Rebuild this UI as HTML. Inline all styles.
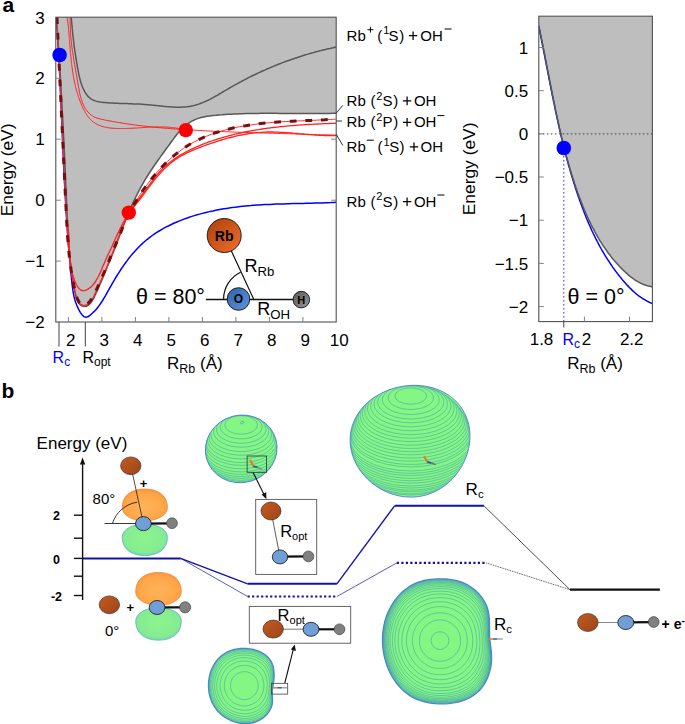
<!DOCTYPE html>
<html><head><meta charset="utf-8"><title>Figure</title>
<style>
html,body{margin:0;padding:0;background:#fff;}
body{width:685px;height:724px;overflow:hidden;}
svg{display:block;}
svg text{font-family:"Liberation Sans",sans-serif;}
</style></head><body>
<svg width="685" height="724" viewBox="0 0 685 724">
<rect width="685" height="724" fill="#fff"/>
<defs>
<linearGradient id="gRb" x1="0" y1="0" x2="1" y2="1"><stop offset="0" stop-color="#a8400c"/><stop offset="0.5" stop-color="#d0561a"/><stop offset="1" stop-color="#f07030"/></linearGradient>
<linearGradient id="gRb2" x1="0" y1="0" x2="1" y2="1"><stop offset="0" stop-color="#c65a1e"/><stop offset="1" stop-color="#9c451b"/></linearGradient>
<linearGradient id="gO" x1="0" y1="0" x2="1" y2="1"><stop offset="0" stop-color="#2f62a8"/><stop offset="1" stop-color="#5f97dc"/></linearGradient>
<linearGradient id="gH" x1="0" y1="0" x2="1" y2="1"><stop offset="0" stop-color="#555"/><stop offset="1" stop-color="#999"/></linearGradient>
<radialGradient id="gOr" cx="0.5" cy="0.55" r="0.6"><stop offset="0" stop-color="#ffb45a"/><stop offset="0.75" stop-color="#ffa548"/><stop offset="1" stop-color="#f88a3c"/></radialGradient>
<radialGradient id="gGr" cx="0.5" cy="0.45" r="0.6"><stop offset="0" stop-color="#8cf58c"/><stop offset="0.75" stop-color="#84ec92"/><stop offset="1" stop-color="#6fcfae"/></radialGradient>
</defs>
<text x="2.6" y="11.6" font-size="21" font-weight="bold" fill="#000">a</text>
<text x="1.5" y="397.6" font-size="21" font-weight="bold" fill="#000">b</text>
<g id="plotA">
<clipPath id="cpA"><rect x="55.8" y="17.2" width="280.4" height="304.8"/></clipPath>
<g clip-path="url(#cpA)">
<path d="M56.3,17.2 L56.5,19.9 L56.7,22.7 L56.9,25.4 L57.1,28.2 L57.3,30.9 L57.4,33.7 L57.6,36.4 L57.8,39.2 L57.9,41.9 L58.1,44.7 L58.2,47.4 L58.4,50.2 L58.5,52.9 L58.7,55.6 L58.8,58.4 L59.0,61.1 L59.1,63.9 L59.3,66.6 L59.4,69.4 L59.5,72.1 L59.7,74.9 L59.8,77.6 L59.9,80.3 L60.0,83.1 L60.2,85.8 L60.3,88.6 L60.4,91.3 L60.5,94.1 L60.7,96.8 L60.8,99.5 L60.9,102.3 L61.0,105.0 L61.1,107.8 L61.3,110.5 L61.4,113.3 L61.5,116.0 L61.6,118.7 L61.7,121.5 L61.8,124.2 L62.0,127.0 L62.1,129.7 L62.2,132.5 L62.3,135.2 L62.4,137.9 L62.5,140.7 L62.7,143.4 L62.8,146.2 L62.9,148.9 L63.0,151.6 L63.1,154.4 L63.3,157.1 L63.4,159.9 L63.5,162.6 L63.6,165.3 L63.8,168.1 L63.9,170.8 L64.0,173.6 L64.2,176.3 L64.3,179.1 L64.4,181.8 L64.6,184.5 L64.7,187.3 L64.9,190.0 L65.0,192.8 L65.2,195.5 L65.3,198.3 L65.5,201.0 L65.6,203.7 L65.8,206.5 L66.0,209.2 L66.1,212.0 L66.3,214.7 L66.5,217.5 L66.7,220.2 L66.8,222.9 L67.0,225.7 L67.2,228.4 L67.4,231.2 L67.6,233.9 L67.8,236.7 L68.0,239.4 L68.2,242.2 L68.5,244.9 L68.7,247.6 L68.9,250.4 L69.1,253.1 L69.4,255.9 L69.6,258.6 L69.8,261.4 L70.1,264.1 L70.3,266.9 L70.6,269.6 L70.9,272.4 L71.1,275.1 L71.4,277.9 L71.7,280.6 L72.0,283.4 L72.3,286.1 L72.7,288.8 L73.1,291.6 L73.6,294.3 L74.1,297.0 L74.8,299.6 L75.6,302.2 L76.6,304.8 L77.7,307.4 L78.9,309.9 L80.3,312.4 L82.0,314.7 L83.8,316.6 L85.8,317.3 L88.0,316.7 L90.2,315.1 L92.3,313.3 L94.3,311.4 L96.1,309.4 L97.9,307.3 L99.5,305.1 L101.1,302.8 L102.6,300.5 L104.0,298.2 L105.4,295.8 L106.7,293.4 L108.1,291.0 L109.4,288.6 L110.8,286.1 L112.2,283.7 L113.6,281.3 L115.0,278.9 L116.4,276.5 L117.9,274.2 L119.4,271.8 L120.9,269.5 L122.4,267.2 L124.0,264.9 L125.6,262.7 L127.3,260.4 L128.9,258.3 L130.6,256.1 L132.4,254.0 L134.2,251.9 L136.0,249.9 L137.9,247.9 L139.8,246.0 L141.8,244.1 L143.8,242.3 L145.8,240.5 L147.9,238.8 L150.1,237.1 L152.3,235.5 L154.5,233.9 L156.8,232.4 L159.1,231.0 L161.5,229.6 L163.9,228.2 L166.3,226.9 L168.8,225.7 L171.3,224.5 L173.8,223.3 L176.3,222.2 L178.9,221.1 L181.4,220.1 L184.0,219.1 L186.6,218.2 L189.2,217.3 L191.8,216.4 L194.4,215.6 L197.1,214.8 L199.7,214.1 L202.3,213.4 L205.0,212.7 L207.7,212.1 L210.3,211.4 L213.0,210.9 L215.7,210.3 L218.4,209.8 L221.1,209.3 L223.8,208.8 L226.5,208.4 L229.2,208.0 L231.9,207.6 L234.6,207.3 L237.3,206.9 L240.1,206.6 L242.8,206.3 L245.5,206.0 L248.3,205.8 L251.0,205.6 L253.8,205.3 L256.5,205.1 L259.3,205.0 L262.0,204.8 L264.8,204.6 L267.5,204.5 L270.3,204.4 L273.0,204.2 L275.8,204.1 L278.6,204.0 L281.3,203.9 L284.1,203.9 L286.8,203.8 L289.6,203.7 L292.4,203.6 L295.1,203.6 L297.9,203.5 L300.6,203.4 L303.4,203.4 L306.1,203.3 L308.9,203.2 L311.6,203.2 L314.4,203.1 L317.1,203.0 L319.8,203.0 L322.6,202.9 L325.3,202.8 L328.0,202.7 L330.7,202.6 L333.4,202.4 L336.2,202.3" fill="none" stroke="#0000ff" stroke-width="1.5"/>
<path d="M57.0,17.2 L57.1,20.1 L57.2,23.0 L57.4,25.9 L57.5,28.9 L57.6,31.8 L57.8,34.7 L57.9,37.6 L58.0,40.5 L58.2,43.4 L58.3,46.3 L58.4,49.2 L58.6,52.2 L58.7,55.1 L58.8,58.0 L59.0,60.9 L59.1,63.8 L59.2,66.7 L59.4,69.7 L59.5,72.6 L59.7,75.5 L59.8,78.4 L59.9,81.3 L60.1,84.3 L60.2,87.2 L60.3,90.1 L60.5,93.0 L60.6,95.9 L60.8,98.9 L60.9,101.8 L61.0,104.7 L61.2,107.6 L61.3,110.5 L61.4,113.5 L61.6,116.4 L61.7,119.3 L61.9,122.2 L62.0,125.2 L62.1,128.1 L62.3,131.0 L62.4,133.9 L62.6,136.8 L62.7,139.8 L62.8,142.7 L63.0,145.6 L63.1,148.5 L63.3,151.4 L63.4,154.4 L63.5,157.3 L63.7,160.2 L63.8,163.1 L64.0,166.0 L64.1,168.9 L64.3,171.9 L64.4,174.8 L64.5,177.7 L64.7,180.6 L64.8,183.5 L65.0,186.4 L65.1,189.3 L65.2,192.3 L65.4,195.2 L65.5,198.1 L65.7,201.0 L65.8,203.9 L66.0,206.8 L66.1,209.7 L66.2,212.6 L66.4,215.5 L66.5,218.4 L66.7,221.3 L66.8,224.2 L67.0,227.1 L67.2,230.0 L67.4,232.9 L67.5,235.8 L67.7,238.7 L68.0,241.6 L68.2,244.5 L68.4,247.5 L68.7,250.4 L69.0,253.3 L69.3,256.2 L69.6,259.1 L70.0,262.0 L70.4,264.9 L70.8,267.8 L71.2,270.7 L71.7,273.6 L72.2,276.5 L72.7,279.4 L73.3,282.4 L73.8,285.3 L74.5,288.2 L75.1,291.1 L75.9,294.0 L76.6,296.9 L77.7,299.6 L79.1,302.1 L81.0,304.1 L83.4,305.2 L85.8,304.8 L88.1,303.2 L90.2,300.9 L91.9,298.5 L93.4,295.9 L94.8,293.3 L96.0,290.6 L97.3,287.9 L98.5,285.2 L99.7,282.6 L100.9,279.9 L102.1,277.2 L103.2,274.5 L104.4,271.8 L105.5,269.1 L106.6,266.5 L107.8,263.8 L108.9,261.1 L110.0,258.4 L111.1,255.7 L112.2,253.0 L113.3,250.3 L114.4,247.6 L115.5,244.9 L116.6,242.3 L117.7,239.6 L118.8,236.9 L120.0,234.2 L121.1,231.5 L122.2,228.8 L123.4,226.1 L124.6,223.4 L125.8,220.7 L127.0,218.1 L128.3,215.4 L129.6,212.8 L130.9,210.2 L132.3,207.7 L133.7,205.1 L135.1,202.6 L136.6,200.2 L138.1,197.7 L139.7,195.2 L141.3,192.8 L142.9,190.4 L144.6,188.0 L146.3,185.7 L148.1,183.3 L149.9,181.0 L151.7,178.7 L153.6,176.4 L155.5,174.1 L157.4,171.9 L159.4,169.7 L161.4,167.5 L163.5,165.4 L165.5,163.3 L167.7,161.3 L169.8,159.3 L172.0,157.3 L174.2,155.4 L176.5,153.6 L178.8,151.8 L181.1,150.1 L183.5,148.4 L185.9,146.8 L188.3,145.3 L190.8,143.8 L193.3,142.4 L195.9,141.1 L198.4,139.8 L201.0,138.6 L203.6,137.4 L206.3,136.3 L209.0,135.2 L211.7,134.2 L214.4,133.2 L217.1,132.3 L219.9,131.5 L222.7,130.7 L225.5,129.9 L228.3,129.2 L231.1,128.5 L234.0,127.8 L236.9,127.2 L239.8,126.7 L242.7,126.1 L245.6,125.7 L248.5,125.2 L251.4,124.8 L254.4,124.4 L257.3,124.0 L260.3,123.6 L263.2,123.3 L266.2,123.0 L269.2,122.7 L272.1,122.5 L275.1,122.3 L278.1,122.0 L281.0,121.8 L284.0,121.7 L287.0,121.5 L289.9,121.3 L292.9,121.2 L295.8,121.0 L298.8,120.9 L301.7,120.8 L304.6,120.6 L307.6,120.5 L310.5,120.4 L313.3,120.3 L316.2,120.2 L319.1,120.0 L321.9,119.9 L324.8,119.8 L327.6,119.6 L330.4,119.5 L333.1,119.3 L335.9,119.1" fill="none" stroke="#ff3030" stroke-width="1"/>
<path d="M56.4,17.3 L56.6,20.2 L56.8,23.2 L57.1,26.2 L57.3,29.2 L57.5,32.2 L57.7,35.1 L57.9,38.1 L58.1,41.1 L58.3,44.1 L58.5,47.1 L58.7,50.1 L58.9,53.1 L59.1,56.1 L59.3,59.1 L59.4,62.1 L59.6,65.1 L59.8,68.1 L60.0,71.1 L60.2,74.1 L60.4,77.1 L60.5,80.1 L60.7,83.1 L60.9,86.1 L61.1,89.1 L61.2,92.1 L61.4,95.2 L61.6,98.2 L61.8,101.2 L61.9,104.2 L62.1,107.2 L62.2,110.2 L62.4,113.2 L62.6,116.2 L62.7,119.2 L62.9,122.3 L63.0,125.3 L63.2,128.3 L63.3,131.3 L63.5,134.3 L63.6,137.3 L63.8,140.3 L63.9,143.3 L64.1,146.3 L64.2,149.3 L64.4,152.3 L64.5,155.3 L64.6,158.3 L64.8,161.4 L64.9,164.4 L65.1,167.4 L65.2,170.4 L65.3,173.4 L65.5,176.4 L65.6,179.3 L65.7,182.3 L65.8,185.3 L66.0,188.3 L66.1,191.3 L66.2,194.3 L66.3,197.3 L66.5,200.3 L66.6,203.3 L66.7,206.2 L66.8,209.2 L67.0,212.2 L67.1,215.2 L67.2,218.1 L67.4,221.1 L67.5,224.1 L67.7,227.1 L67.8,230.1 L68.0,233.0 L68.2,236.0 L68.4,239.0 L68.6,242.0 L68.8,245.0 L69.0,248.0 L69.3,251.0 L69.6,254.0 L69.9,257.0 L70.2,260.0 L70.5,263.0 L70.9,266.0 L71.2,269.1 L71.6,272.1 L72.1,275.1 L72.5,278.2 L73.0,281.2 L73.5,284.3 L74.1,287.3 L74.6,290.4 L75.2,293.5 L75.9,296.5 L76.8,299.4 L78.0,302.1 L79.6,304.3 L81.7,305.9 L84.1,306.6 L86.6,306.2 L88.9,304.8 L90.9,302.7 L92.6,300.2 L94.2,297.3 L95.5,294.3 L96.9,291.4 L98.2,288.5 L99.4,285.7 L100.6,282.9 L101.8,280.1 L103.0,277.4 L104.1,274.6 L105.2,271.9 L106.4,269.2 L107.4,266.5 L108.5,263.8 L109.6,261.0 L110.7,258.3 L111.7,255.5 L112.8,252.7 L113.9,249.9 L115.0,247.1 L116.0,244.2 L117.1,241.4 L118.2,238.6 L119.3,235.8 L120.4,232.9 L121.5,230.1 L122.6,227.3 L123.7,224.5 L124.8,221.7 L126.0,218.9 L127.1,216.1 L128.3,213.4 L129.5,210.6 L130.7,207.9 L132.0,205.1 L133.2,202.4 L134.5,199.7 L135.8,197.0 L137.1,194.3 L138.5,191.7 L139.9,189.0 L141.3,186.4 L142.8,183.8 L144.3,181.2 L145.8,178.6 L147.4,176.0 L149.0,173.5 L150.6,171.0 L152.3,168.5 L154.0,166.0 L155.7,163.5 L157.4,161.0 L159.2,158.6 L160.9,156.1 L162.7,153.7 L164.5,151.2 L166.3,148.8 L168.1,146.4 L169.8,144.0 L171.6,141.5 L173.4,139.1 L175.1,136.7 L177.0,134.3 L178.9,132.0 L180.9,129.8 L183.0,127.7 L185.3,125.7 L187.7,123.8 L190.2,122.1 L192.8,120.7 L195.5,119.4 L198.3,118.4 L201.1,117.5 L204.0,116.9 L207.0,116.3 L210.0,115.9 L213.0,115.5 L216.0,115.3 L219.0,115.0 L222.0,114.8 L225.1,114.5 L228.1,114.3 L231.1,114.2 L234.1,114.0 L237.1,113.9 L240.1,113.8 L243.1,113.7 L246.1,113.6 L249.1,113.5 L252.1,113.4 L255.1,113.4 L258.1,113.4 L261.1,113.3 L264.1,113.3 L267.1,113.3 L270.1,113.3 L273.1,113.3 L276.1,113.3 L279.1,113.4 L282.1,113.4 L285.1,113.4 L288.1,113.4 L291.1,113.4 L294.1,113.5 L297.1,113.5 L300.1,113.5 L303.1,113.5 L306.1,113.5 L309.1,113.6 L312.1,113.6 L315.1,113.5 L318.1,113.5 L321.1,113.5 L324.1,113.5 L327.2,113.4 L330.2,113.4 L333.2,113.3 L336.2,113.2 L336.2,17.2 Z" fill="#bebebe"/>
<path d="M56.4,17.3 L56.6,20.2 L56.8,23.2 L57.1,26.2 L57.3,29.2 L57.5,32.2 L57.7,35.1 L57.9,38.1 L58.1,41.1 L58.3,44.1 L58.5,47.1 L58.7,50.1 L58.9,53.1 L59.1,56.1 L59.3,59.1 L59.4,62.1 L59.6,65.1 L59.8,68.1 L60.0,71.1 L60.2,74.1 L60.4,77.1 L60.5,80.1 L60.7,83.1 L60.9,86.1 L61.1,89.1 L61.2,92.1 L61.4,95.2 L61.6,98.2 L61.8,101.2 L61.9,104.2 L62.1,107.2 L62.2,110.2 L62.4,113.2 L62.6,116.2 L62.7,119.2 L62.9,122.3 L63.0,125.3 L63.2,128.3 L63.3,131.3 L63.5,134.3 L63.6,137.3 L63.8,140.3 L63.9,143.3 L64.1,146.3 L64.2,149.3 L64.4,152.3 L64.5,155.3 L64.6,158.3 L64.8,161.4 L64.9,164.4 L65.1,167.4 L65.2,170.4 L65.3,173.4 L65.5,176.4 L65.6,179.3 L65.7,182.3 L65.8,185.3 L66.0,188.3 L66.1,191.3 L66.2,194.3 L66.3,197.3 L66.5,200.3 L66.6,203.3 L66.7,206.2 L66.8,209.2 L67.0,212.2 L67.1,215.2 L67.2,218.1 L67.4,221.1 L67.5,224.1 L67.7,227.1 L67.8,230.1 L68.0,233.0 L68.2,236.0 L68.4,239.0 L68.6,242.0 L68.8,245.0 L69.0,248.0 L69.3,251.0 L69.6,254.0 L69.9,257.0 L70.2,260.0 L70.5,263.0 L70.9,266.0 L71.2,269.1 L71.6,272.1 L72.1,275.1 L72.5,278.2 L73.0,281.2 L73.5,284.3 L74.1,287.3 L74.6,290.4 L75.2,293.5 L75.9,296.5 L76.8,299.4 L78.0,302.1 L79.6,304.3 L81.7,305.9 L84.1,306.6 L86.6,306.2 L88.9,304.8 L90.9,302.7 L92.6,300.2 L94.2,297.3 L95.5,294.3 L96.9,291.4 L98.2,288.5 L99.4,285.7 L100.6,282.9 L101.8,280.1 L103.0,277.4 L104.1,274.6 L105.2,271.9 L106.4,269.2 L107.4,266.5 L108.5,263.8 L109.6,261.0 L110.7,258.3 L111.7,255.5 L112.8,252.7 L113.9,249.9 L115.0,247.1 L116.0,244.2 L117.1,241.4 L118.2,238.6 L119.3,235.8 L120.4,232.9 L121.5,230.1 L122.6,227.3 L123.7,224.5 L124.8,221.7 L126.0,218.9 L127.1,216.1 L128.3,213.4 L129.5,210.6 L130.7,207.9 L132.0,205.1 L133.2,202.4 L134.5,199.7 L135.8,197.0 L137.1,194.3 L138.5,191.7 L139.9,189.0 L141.3,186.4 L142.8,183.8 L144.3,181.2 L145.8,178.6 L147.4,176.0 L149.0,173.5 L150.6,171.0 L152.3,168.5 L154.0,166.0 L155.7,163.5 L157.4,161.0 L159.2,158.6 L160.9,156.1 L162.7,153.7 L164.5,151.2 L166.3,148.8 L168.1,146.4 L169.8,144.0 L171.6,141.5 L173.4,139.1 L175.1,136.7 L177.0,134.3 L178.9,132.0 L180.9,129.8 L183.0,127.7 L185.3,125.7 L187.7,123.8 L190.2,122.1 L192.8,120.7 L195.5,119.4 L198.3,118.4 L201.1,117.5 L204.0,116.9 L207.0,116.3 L210.0,115.9 L213.0,115.5 L216.0,115.3 L219.0,115.0 L222.0,114.8 L225.1,114.5 L228.1,114.3 L231.1,114.2 L234.1,114.0 L237.1,113.9 L240.1,113.8 L243.1,113.7 L246.1,113.6 L249.1,113.5 L252.1,113.4 L255.1,113.4 L258.1,113.4 L261.1,113.3 L264.1,113.3 L267.1,113.3 L270.1,113.3 L273.1,113.3 L276.1,113.3 L279.1,113.4 L282.1,113.4 L285.1,113.4 L288.1,113.4 L291.1,113.4 L294.1,113.5 L297.1,113.5 L300.1,113.5 L303.1,113.5 L306.1,113.5 L309.1,113.6 L312.1,113.6 L315.1,113.5 L318.1,113.5 L321.1,113.5 L324.1,113.5 L327.2,113.4 L330.2,113.4 L333.2,113.3 L336.2,113.2" fill="none" stroke="#585858" stroke-width="1.5"/>
<path d="M71.2,17.1 L71.4,18.8 L71.5,20.4 L71.6,22.0 L71.8,23.6 L71.9,25.2 L72.1,26.8 L72.2,28.4 L72.4,30.0 L72.5,31.5 L72.7,33.1 L72.8,34.6 L73.0,36.2 L73.2,37.7 L73.4,39.2 L73.5,40.8 L73.7,42.3 L73.9,43.8 L74.1,45.3 L74.3,46.8 L74.5,48.4 L74.7,49.9 L74.9,51.4 L75.2,52.9 L75.4,54.4 L75.6,56.0 L75.9,57.5 L76.1,59.0 L76.4,60.6 L76.6,62.1 L76.9,63.7 L77.2,65.2 L77.4,66.8 L77.7,68.4 L78.0,70.0 L78.3,71.6 L78.6,73.2 L79.0,74.8 L79.3,76.4 L79.7,78.0 L80.1,79.6 L80.5,81.2 L81.0,82.7 L81.5,84.3 L82.0,85.8 L82.6,87.3 L83.3,88.7 L84.0,90.2 L84.7,91.6 L85.5,92.9 L86.4,94.2 L87.3,95.5 L88.3,96.6 L89.4,97.6 L90.6,98.6 L91.8,99.3 L93.1,100.0 L94.5,100.6 L95.9,101.1 L97.4,101.5 L98.8,101.8 L100.4,102.1 L101.9,102.3 L103.5,102.5 L105.1,102.6 L106.7,102.7 L108.3,102.8 L109.9,102.9 L111.5,103.0 L113.1,103.1 L114.6,103.2 L116.2,103.2 L117.8,103.3 L119.3,103.4 L120.9,103.4 L122.5,103.5 L124.0,103.5 L125.6,103.6 L127.1,103.6 L128.7,103.7 L130.2,103.7 L131.8,103.8 L133.3,103.9 L134.9,103.9 L136.4,104.0 L138.0,104.1 L139.5,104.1 L141.1,104.2 L142.7,104.3 L144.2,104.4 L145.8,104.5 L147.4,104.7 L148.9,104.8 L150.5,104.9 L152.1,105.1 L153.7,105.2 L155.3,105.4 L156.9,105.6 L158.5,105.7 L160.1,105.9 L161.7,106.1 L163.3,106.3 L164.9,106.4 L166.5,106.6 L168.1,106.7 L169.7,106.8 L171.3,106.9 L172.8,107.0 L174.4,107.1 L176.0,107.2 L177.6,107.2 L179.2,107.2 L180.7,107.2 L182.3,107.1 L183.8,107.0 L185.4,106.9 L186.9,106.8 L188.4,106.6 L190.0,106.4 L191.5,106.1 L193.0,105.8 L194.4,105.4 L195.9,105.0 L197.4,104.5 L198.8,104.1 L200.3,103.5 L201.7,103.0 L203.2,102.4 L204.6,101.8 L206.0,101.1 L207.4,100.5 L208.8,99.8 L210.2,99.1 L211.6,98.3 L213.0,97.6 L214.4,96.8 L215.8,96.0 L217.2,95.3 L218.6,94.5 L220.0,93.6 L221.3,92.8 L222.7,92.0 L224.1,91.2 L225.5,90.4 L226.8,89.6 L228.2,88.8 L229.6,88.0 L231.0,87.2 L232.4,86.4 L233.8,85.6 L235.1,84.8 L236.5,84.1 L237.9,83.3 L239.3,82.5 L240.7,81.8 L242.1,81.0 L243.5,80.3 L244.9,79.6 L246.3,78.9 L247.7,78.1 L249.1,77.4 L250.5,76.7 L251.9,76.0 L253.3,75.3 L254.7,74.7 L256.1,74.0 L257.6,73.3 L259.0,72.6 L260.4,72.0 L261.8,71.3 L263.2,70.7 L264.7,70.1 L266.1,69.4 L267.5,68.8 L269.0,68.2 L270.4,67.6 L271.8,67.0 L273.3,66.4 L274.7,65.8 L276.2,65.2 L277.6,64.6 L279.1,64.0 L280.5,63.5 L282.0,62.9 L283.4,62.4 L284.9,61.8 L286.4,61.3 L287.8,60.7 L289.3,60.2 L290.8,59.7 L292.2,59.2 L293.7,58.7 L295.2,58.2 L296.7,57.7 L298.2,57.2 L299.6,56.7 L301.1,56.2 L302.6,55.8 L304.1,55.3 L305.6,54.8 L307.1,54.4 L308.6,53.9 L310.1,53.5 L311.7,53.1 L313.2,52.6 L314.7,52.2 L316.2,51.8 L317.7,51.4 L319.3,51.0 L320.8,50.6 L322.3,50.2 L323.9,49.8 L325.4,49.5 L327.0,49.1 L328.5,48.7 L330.1,48.4 L331.6,48.0 L333.2,47.7 L334.8,47.3 L336.3,47.0" fill="none" stroke="#585858" stroke-width="1.5"/>
<path d="M70.1,17.2 L70.1,18.9 L70.1,20.6 L70.1,22.3 L70.1,23.9 L70.2,25.6 L70.2,27.2 L70.3,28.9 L70.4,30.5 L70.5,32.1 L70.6,33.7 L70.7,35.3 L70.8,36.8 L71.0,38.4 L71.1,40.0 L71.3,41.5 L71.4,43.1 L71.6,44.6 L71.8,46.1 L72.0,47.7 L72.2,49.2 L72.4,50.7 L72.7,52.2 L72.9,53.8 L73.1,55.3 L73.4,56.8 L73.6,58.3 L73.8,59.9 L74.1,61.4 L74.4,62.9 L74.6,64.4 L74.9,66.0 L75.2,67.5 L75.4,69.1 L75.7,70.6 L76.0,72.2 L76.3,73.7 L76.5,75.3 L76.8,76.9 L77.1,78.5 L77.4,80.1 L77.6,81.7 L77.9,83.3 L78.2,84.9 L78.5,86.6 L78.8,88.2 L79.1,89.9 L79.4,91.5 L79.7,93.1 L80.1,94.7 L80.5,96.4 L80.9,97.9 L81.4,99.5 L81.9,101.0 L82.4,102.6 L83.0,104.0 L83.7,105.5 L84.4,106.9 L85.2,108.3 L86.0,109.6 L86.9,110.8 L87.9,112.0 L89.0,113.1 L90.1,114.2 L91.3,115.1 L92.5,116.0 L93.8,116.8 L95.2,117.4 L96.7,118.0 L98.1,118.4 L99.7,118.8 L101.2,119.2 L102.8,119.5 L104.3,119.9 L105.9,120.2 L107.5,120.5 L109.0,120.8 L110.6,121.1 L112.2,121.4 L113.8,121.7 L115.3,121.9 L116.9,122.2 L118.5,122.5 L120.0,122.7 L121.6,123.0 L123.2,123.3 L124.8,123.5 L126.4,123.7 L127.9,124.0 L129.5,124.2 L131.1,124.4 L132.7,124.7 L134.3,124.9 L135.8,125.1 L137.4,125.3 L139.0,125.5 L140.6,125.7 L142.2,125.9 L143.7,126.1 L145.3,126.2 L146.9,126.4 L148.5,126.6 L150.1,126.8 L151.7,126.9 L153.3,127.1 L154.8,127.2 L156.4,127.4 L158.0,127.6 L159.6,127.7 L161.2,127.8 L162.8,128.0 L164.4,128.1 L166.0,128.3 L167.6,128.4 L169.1,128.5 L170.7,128.6 L172.3,128.8 L173.9,128.9 L175.5,129.0 L177.1,129.1 L178.7,129.2 L180.3,129.3 L181.9,129.4 L183.5,129.6 L185.0,129.7 L186.6,129.8 L188.2,129.9 L189.8,130.0 L191.4,130.1 L193.0,130.1 L194.6,130.2 L196.2,130.3 L197.8,130.4 L199.4,130.5 L201.0,130.6 L202.5,130.7 L204.1,130.8 L205.7,130.8 L207.3,130.9 L208.9,131.0 L210.5,131.1 L212.1,131.1 L213.7,131.2 L215.3,131.3 L216.9,131.4 L218.4,131.4 L220.0,131.5 L221.6,131.6 L223.2,131.6 L224.8,131.7 L226.4,131.8 L228.0,131.8 L229.6,131.9 L231.2,131.9 L232.8,132.0 L234.3,132.1 L235.9,132.1 L237.5,132.2 L239.1,132.2 L240.7,132.3 L242.3,132.3 L243.9,132.4 L245.5,132.5 L247.1,132.5 L248.7,132.6 L250.2,132.6 L251.8,132.7 L253.4,132.7 L255.0,132.8 L256.6,132.8 L258.2,132.9 L259.8,132.9 L261.4,133.0 L263.0,133.0 L264.6,133.1 L266.2,133.1 L267.7,133.1 L269.3,133.2 L270.9,133.2 L272.5,133.3 L274.1,133.3 L275.7,133.4 L277.3,133.4 L278.9,133.5 L280.5,133.5 L282.1,133.6 L283.7,133.6 L285.2,133.7 L286.8,133.7 L288.4,133.7 L290.0,133.8 L291.6,133.8 L293.2,133.9 L294.8,133.9 L296.4,134.0 L298.0,134.0 L299.6,134.1 L301.2,134.1 L302.8,134.2 L304.3,134.2 L305.9,134.3 L307.5,134.3 L309.1,134.4 L310.7,134.4 L312.3,134.5 L313.9,134.5 L315.5,134.6 L317.1,134.7 L318.7,134.7 L320.3,134.8 L321.9,134.8 L323.5,134.9 L325.0,134.9 L326.6,135.0 L328.2,135.1 L329.8,135.1 L331.4,135.2 L333.0,135.3 L334.6,135.3 L336.2,135.4" fill="none" stroke="#ff2020" stroke-width="1"/>
<path d="M67.2,17.2 L67.3,18.1 L67.4,19.1 L67.5,20.0 L67.6,20.9 L67.7,21.9 L67.9,22.8 L68.0,23.7 L68.1,24.6 L68.2,25.6 L68.3,26.5 L68.4,27.4 L68.4,28.3 L68.5,29.3 L68.6,30.2 L68.7,31.1 L68.8,32.1 L68.9,33.0 L69.0,33.9 L69.0,34.8 L69.1,35.8 L69.2,36.7 L69.3,37.6 L69.3,38.6 L69.4,39.5 L69.5,40.4 L69.6,41.3 L69.6,42.3 L69.7,43.2 L69.8,44.1 L69.9,45.1 L69.9,46.0 L70.0,46.9 L70.1,47.8 L70.2,48.8 L70.2,49.7 L70.3,50.6 L70.4,51.5 L70.5,52.5 L70.6,53.4 L70.7,54.3 L70.7,55.2 L70.8,56.2 L70.9,57.1 L71.0,58.0 L71.1,58.9 L71.2,59.9 L71.3,60.8 L71.4,61.7 L71.5,62.6 L71.6,63.5 L71.7,64.5 L71.8,65.4 L71.9,66.3 L72.0,67.2 L72.2,68.1 L72.3,69.1 L72.4,70.0 L72.6,70.9 L72.7,71.8 L72.8,72.7 L73.0,73.7 L73.1,74.6 L73.3,75.5 L73.4,76.4 L73.6,77.3 L73.8,78.2 L73.9,79.1 L74.1,80.1 L74.3,81.0 L74.5,81.9 L74.7,82.8 L74.9,83.7 L75.1,84.6 L75.3,85.5 L75.5,86.4 L75.7,87.4 L76.0,88.3 L76.2,89.2 L76.4,90.1 L76.7,91.0 L77.0,91.9 L77.2,92.8 L77.5,93.7 L77.8,94.6 L78.1,95.5 L78.3,96.4 L78.6,97.3 L79.0,98.2 L79.3,99.1 L79.6,100.0 L79.9,100.9 L80.3,101.8 L80.6,102.7 L81.0,103.6 L81.3,104.5 L81.7,105.4 L82.1,106.3 L82.5,107.2 L82.9,108.0 L83.3,108.9 L83.8,109.7 L84.2,110.6 L84.7,111.4 L85.1,112.2 L85.6,113.0 L86.1,113.8 L86.6,114.6 L87.1,115.4 L87.7,116.1 L88.2,116.8 L88.8,117.6 L89.4,118.2 L90.0,118.9 L90.6,119.6 L91.2,120.2 L91.9,120.8 L92.5,121.4 L93.2,121.9 L93.9,122.4 L94.7,122.9 L95.4,123.4 L96.1,123.8 L96.9,124.3 L97.7,124.7 L98.5,125.0 L99.3,125.4 L100.2,125.7 L101.0,126.0 L101.9,126.3 L102.7,126.5 L103.6,126.8 L104.5,127.0 L105.4,127.2 L106.3,127.4 L107.2,127.6 L108.2,127.7 L109.1,127.9 L110.0,128.0 L111.0,128.1 L111.9,128.2 L112.9,128.3 L113.9,128.3 L114.8,128.4 L115.8,128.4 L116.8,128.5 L117.7,128.5 L118.7,128.5 L119.7,128.5 L120.6,128.6 L121.6,128.5 L122.6,128.5 L123.5,128.5 L124.5,128.5 L125.4,128.5 L126.4,128.5 L127.3,128.4 L128.3,128.4 L129.2,128.4 L130.2,128.3 L131.1,128.3 L132.0,128.2 L133.0,128.2 L133.9,128.1 L134.9,128.1 L135.8,128.0 L136.7,128.0 L137.6,127.9 L138.6,127.8 L139.5,127.8 L140.4,127.7 L141.3,127.7 L142.3,127.6 L143.2,127.5 L144.1,127.5 L145.0,127.4 L145.9,127.4 L146.8,127.3 L147.8,127.3 L148.7,127.2 L149.6,127.2 L150.5,127.1 L151.4,127.1 L152.3,127.0 L153.2,127.0 L154.2,127.0 L155.1,126.9 L156.0,126.9 L156.9,126.9 L157.8,126.9 L158.7,126.9 L159.6,126.9 L160.6,126.9 L161.5,126.9 L162.4,126.9 L163.3,126.9 L164.2,126.9 L165.1,127.0 L166.1,127.0 L167.0,127.1 L167.9,127.1 L168.8,127.2 L169.8,127.3 L170.7,127.4 L171.6,127.5 L172.5,127.6 L173.5,127.7 L174.4,127.8 L175.3,127.9 L176.3,128.1 L177.2,128.2 L178.2,128.4 L179.1,128.6 L180.1,128.7 L181.0,128.9 L182.0,129.1 L182.9,129.4 L183.9,129.6 L184.8,129.9 L185.8,130.1" fill="none" stroke="#ff2020" stroke-width="1"/>
<path d="M56.7,17.2 L57.0,23.1 L57.4,29.0 L57.7,35.0 L58.0,40.9 L58.3,46.8 L58.6,52.7 L58.9,58.6 L59.2,64.6 L59.5,70.5 L59.7,76.4 L60.0,82.3 L60.2,88.2 L60.5,94.2 L60.8,100.1 L61.0,106.0 L61.3,111.9 L61.5,117.8 L61.8,123.8 L62.1,129.7 L62.3,135.6 L62.6,141.5 L62.9,147.5 L63.1,153.4 L63.4,159.3 L63.7,165.2 L64.0,171.1 L64.3,177.1 L64.7,183.0 L65.0,188.9 L65.3,194.8 L65.7,200.7 L66.1,206.6 L66.4,212.5 L66.8,218.5 L67.2,224.4 L67.7,230.3 L68.1,236.2 L68.6,242.1 L69.1,248.0" fill="none" stroke="#ff3040" stroke-width="0.7"/>
<path d="M66.8,220.0 L67.2,221.8 L67.5,223.6 L67.8,225.5 L68.0,227.3 L68.3,229.1 L68.5,231.0 L68.6,232.8 L68.8,234.7 L68.9,236.5 L69.0,238.4 L69.1,240.2 L69.1,242.1 L69.2,243.9 L69.3,245.8 L69.3,247.7 L69.4,249.5 L69.5,251.4 L69.6,253.3 L69.7,255.1 L69.8,257.0 L70.0,258.8 L70.1,260.7 L70.3,262.6 L70.6,264.4 L70.8,266.3 L71.2,268.1 L71.5,269.9 L71.9,271.8 L72.4,273.6 L72.9,275.4 L73.4,277.3 L74.1,279.1 L74.8,280.9 L75.5,282.7 L76.3,284.5 L77.3,286.1 L78.3,287.6 L79.4,288.9 L80.6,289.9 L82.0,290.5 L83.5,290.7 L85.1,290.4 L86.7,289.8 L88.3,288.9 L89.8,287.9 L91.2,286.7 L92.5,285.4 L93.7,284.0 L94.8,282.5 L95.9,280.9 L96.9,279.2 L97.8,277.5 L98.7,275.7 L99.6,273.9 L100.4,272.1 L101.2,270.2 L101.9,268.4 L102.7,266.6 L103.5,264.9 L104.2,263.2 L105.0,261.5 L105.7,259.8 L106.5,258.2 L107.2,256.5 L108.0,254.9 L108.7,253.3 L109.5,251.7 L110.2,250.1 L111.0,248.5 L111.7,246.9 L112.5,245.2 L113.2,243.5 L114.0,241.9 L114.7,240.2 L115.5,238.5 L116.3,236.8 L117.1,235.1 L117.9,233.4 L118.7,231.7 L119.5,230.0 L120.3,228.3 L121.2,226.6 L122.0,224.9 L122.9,223.3 L123.8,221.6 L124.7,219.9 L125.6,218.3 L126.5,216.7 L127.5,215.1 L128.4,213.5 L129.4,211.9 L130.4,210.4 L131.5,208.8 L132.5,207.3 L133.6,205.8 L134.7,204.3 L135.8,202.9 L136.9,201.4 L138.0,199.9 L139.1,198.5 L140.3,197.0 L141.4,195.5 L142.5,194.1 L143.6,192.6 L144.8,191.1 L145.9,189.6 L147.0,188.1 L148.1,186.6 L149.2,185.1 L150.3,183.6 L151.4,182.1 L152.6,180.6 L153.7,179.1 L154.8,177.6 L156.0,176.1 L157.2,174.7 L158.4,173.2 L159.6,171.8 L160.9,170.5 L162.2,169.1 L163.5,167.9 L164.8,166.6 L166.2,165.4 L167.6,164.2 L169.0,163.0 L170.5,161.8 L172.0,160.7 L173.4,159.7 L175.0,158.6 L176.5,157.6 L178.0,156.6 L179.6,155.6 L181.2,154.6 L182.8,153.7 L184.4,152.8 L186.1,151.9 L187.7,151.0 L189.4,150.2 L191.0,149.4 L192.7,148.6 L194.4,147.8 L196.1,147.0 L197.8,146.3 L199.6,145.6 L201.3,144.9 L203.0,144.2 L204.7,143.5 L206.5,142.8 L208.2,142.2 L210.0,141.6 L211.7,141.0 L213.5,140.4 L215.3,139.8 L217.0,139.2 L218.8,138.6 L220.6,138.1 L222.3,137.6 L224.1,137.1 L225.9,136.6 L227.7,136.1 L229.5,135.6 L231.3,135.1 L233.1,134.7 L234.9,134.2 L236.7,133.8 L238.5,133.4 L240.3,133.0 L242.1,132.6 L243.9,132.2 L245.7,131.8 L247.5,131.5 L249.4,131.1 L251.2,130.8 L253.0,130.5 L254.8,130.2 L256.7,129.8 L258.5,129.6 L260.3,129.3 L262.2,129.0 L264.0,128.7 L265.9,128.5 L267.7,128.2 L269.5,128.0 L271.4,127.7 L273.2,127.5 L275.1,127.3 L276.9,127.1 L278.8,126.9 L280.6,126.7 L282.5,126.5 L284.3,126.3 L286.2,126.1 L288.0,125.9 L289.9,125.8 L291.7,125.6 L293.6,125.5 L295.4,125.3 L297.3,125.2 L299.2,125.1 L301.0,124.9 L302.9,124.8 L304.7,124.7 L306.6,124.6 L308.4,124.5 L310.3,124.4 L312.1,124.3 L314.0,124.2 L315.9,124.1 L317.7,124.0 L319.6,123.9 L321.4,123.8 L323.3,123.7 L325.1,123.6 L327.0,123.6 L328.8,123.5 L330.7,123.4 L332.5,123.3 L334.3,123.3 L336.2,123.2" fill="none" stroke="#ff2020" stroke-width="1.3"/>
<path d="M68.0,243.0 L68.3,245.1 L68.6,247.2 L68.8,249.2 L69.1,251.2 L69.3,253.1 L69.5,255.0 L69.7,256.8 L69.9,258.6 L70.1,260.4 L70.3,262.2 L70.6,263.9 L70.8,265.6 L71.0,267.3 L71.2,269.1 L71.4,270.8 L71.6,272.5 L71.9,274.2 L72.1,276.0 L72.4,277.7 L72.7,279.5 L73.0,281.3 L73.4,283.1 L73.7,285.0 L74.1,286.9 L74.5,288.9 L74.9,290.9 L75.4,292.9 L75.9,295.0 L76.5,297.0 L77.1,299.0 L77.9,300.8 L78.9,302.4 L80.0,303.7 L81.2,304.6 L82.7,305.2 L84.2,305.4 L85.7,305.2 L87.2,304.6 L88.6,303.7 L89.9,302.6 L91.1,301.2 L92.1,299.7 L93.0,298.0 L93.9,296.2 L94.7,294.4 L95.6,292.6 L96.4,290.8 L97.2,289.0 L98.0,287.2 L98.8,285.4 L99.6,283.7 L100.3,281.9 L101.1,280.2 L101.9,278.4 L102.7,276.7 L103.5,275.0 L104.2,273.3 L105.0,271.6 L105.7,269.9 L106.5,268.2 L107.2,266.5 L108.0,264.8 L108.7,263.2 L109.4,261.5 L110.2,259.8 L110.9,258.1 L111.6,256.4 L112.3,254.8 L113.0,253.1 L113.7,251.4 L114.4,249.7 L115.1,248.0 L115.8,246.3 L116.4,244.5 L117.1,242.8 L117.7,241.1 L118.4,239.3 L119.0,237.6 L119.7,235.8 L120.3,234.0 L120.9,232.2 L121.6,230.4 L122.2,228.6 L122.9,226.8 L123.5,225.0 L124.2,223.3 L125.0,221.5 L125.7,219.8 L126.5,218.1 L127.4,216.4 L128.3,214.8 L129.3,213.2 L130.3,211.7 L131.3,210.2 L132.4,208.7 L133.6,207.2 L134.7,205.8 L135.9,204.4 L137.0,202.9 L138.2,201.5 L139.3,200.0 L140.5,198.5 L141.6,197.0 L142.7,195.6 L143.8,194.1 L144.9,192.6 L146.0,191.1 L147.1,189.6 L148.2,188.1 L149.4,186.6 L150.5,185.1 L151.6,183.6 L152.8,182.1 L153.9,180.6 L155.1,179.2 L156.3,177.7 L157.5,176.3 L158.7,174.9 L160.0,173.5 L161.2,172.1 L162.5,170.7 L163.8,169.4 L165.2,168.0 L166.5,166.8 L167.9,165.5 L169.3,164.3 L170.8,163.1 L172.2,161.9 L173.7,160.8 L175.3,159.7 L176.8,158.7 L178.3,157.7 L179.9,156.8 L181.5,155.8 L183.2,154.9 L184.8,154.1 L186.4,153.2 L188.1,152.4 L189.8,151.6 L191.5,150.9 L193.2,150.1 L194.9,149.4 L196.7,148.7 L198.4,148.0 L200.1,147.3 L201.9,146.7 L203.6,146.0 L205.4,145.4 L207.2,144.7 L208.9,144.1 L210.7,143.5 L212.5,142.9 L214.3,142.3 L216.1,141.7 L217.8,141.1 L219.6,140.5 L221.4,140.0 L223.2,139.5 L225.0,138.9 L226.8,138.4 L228.6,137.9 L230.5,137.5 L232.3,137.0 L234.1,136.6 L235.9,136.1 L237.7,135.7 L239.5,135.3 L241.4,135.0 L243.2,134.6 L245.0,134.3 L246.9,134.0 L248.7,133.7 L250.5,133.4 L252.4,133.2 L254.2,132.9 L256.1,132.7 L257.9,132.6 L259.8,132.4 L261.6,132.3 L263.5,132.2 L265.3,132.1 L267.2,132.0 L269.1,132.0 L270.9,132.0 L272.8,132.0 L274.6,132.1 L276.5,132.1 L278.4,132.2 L280.2,132.3 L282.1,132.4 L284.0,132.5 L285.8,132.6 L287.7,132.7 L289.6,132.9 L291.4,133.0 L293.3,133.2 L295.2,133.3 L297.1,133.5 L298.9,133.7 L300.8,133.8 L302.7,134.0 L304.5,134.2 L306.4,134.3 L308.3,134.5 L310.1,134.6 L312.0,134.8 L313.9,134.9 L315.7,135.0 L317.6,135.2 L319.5,135.3 L321.3,135.4 L323.2,135.4 L325.1,135.5 L326.9,135.5 L328.8,135.5 L330.6,135.5 L332.5,135.5 L334.3,135.5 L336.2,135.4" fill="none" stroke="#ff2020" stroke-width="1.3"/>
<path d="M57.0,17.2 L57.1,20.1 L57.2,23.0 L57.4,25.9 L57.5,28.9 L57.6,31.8 L57.8,34.7 L57.9,37.6 L58.0,40.5 L58.2,43.4 L58.3,46.3 L58.4,49.2 L58.6,52.2 L58.7,55.1 L58.8,58.0 L59.0,60.9 L59.1,63.8 L59.2,66.7 L59.4,69.7 L59.5,72.6 L59.7,75.5 L59.8,78.4 L59.9,81.3 L60.1,84.3 L60.2,87.2 L60.3,90.1 L60.5,93.0 L60.6,95.9 L60.8,98.9 L60.9,101.8 L61.0,104.7 L61.2,107.6 L61.3,110.5 L61.4,113.5 L61.6,116.4 L61.7,119.3 L61.9,122.2 L62.0,125.2 L62.1,128.1 L62.3,131.0 L62.4,133.9 L62.6,136.8 L62.7,139.8 L62.8,142.7 L63.0,145.6 L63.1,148.5 L63.3,151.4 L63.4,154.4 L63.5,157.3 L63.7,160.2 L63.8,163.1 L64.0,166.0 L64.1,168.9 L64.3,171.9 L64.4,174.8 L64.5,177.7 L64.7,180.6 L64.8,183.5 L65.0,186.4 L65.1,189.3 L65.2,192.3 L65.4,195.2 L65.5,198.1 L65.7,201.0 L65.8,203.9 L66.0,206.8 L66.1,209.7 L66.2,212.6 L66.4,215.5 L66.5,218.4 L66.7,221.3 L66.8,224.2 L67.0,227.1 L67.2,230.0 L67.4,232.9 L67.5,235.8 L67.7,238.7 L68.0,241.6 L68.2,244.5 L68.4,247.5 L68.7,250.4 L69.0,253.3 L69.3,256.2 L69.6,259.1 L70.0,262.0 L70.4,264.9 L70.8,267.8 L71.2,270.7 L71.7,273.6 L72.2,276.5 L72.7,279.4 L73.3,282.4 L73.8,285.3 L74.5,288.2 L75.1,291.1 L75.9,294.0 L76.6,296.9 L77.7,299.6 L79.1,302.1 L81.0,304.1 L83.4,305.2 L85.8,304.8 L88.1,303.2 L90.2,300.9 L91.9,298.5 L93.4,295.9 L94.8,293.3 L96.0,290.6 L97.3,287.9 L98.5,285.2 L99.7,282.6 L100.9,279.9 L102.1,277.2 L103.2,274.5 L104.4,271.8 L105.5,269.1 L106.6,266.5 L107.8,263.8 L108.9,261.1 L110.0,258.4 L111.1,255.7 L112.2,253.0 L113.3,250.3 L114.4,247.6 L115.5,244.9 L116.6,242.3 L117.7,239.6 L118.8,236.9 L120.0,234.2 L121.1,231.5 L122.2,228.8 L123.4,226.1 L124.6,223.4 L125.8,220.7 L127.0,218.1 L128.3,215.4 L129.6,212.8 L130.9,210.2 L132.3,207.7 L133.7,205.1 L135.1,202.6 L136.6,200.2 L138.1,197.7 L139.7,195.2 L141.3,192.8 L142.9,190.4 L144.6,188.0 L146.3,185.7 L148.1,183.3 L149.9,181.0 L151.7,178.7 L153.6,176.4 L155.5,174.1 L157.4,171.9 L159.4,169.7 L161.4,167.5 L163.5,165.4 L165.5,163.3 L167.7,161.3 L169.8,159.3 L172.0,157.3 L174.2,155.4 L176.5,153.6 L178.8,151.8 L181.1,150.1 L183.5,148.4 L185.9,146.8 L188.3,145.3 L190.8,143.8 L193.3,142.4 L195.9,141.1 L198.4,139.8 L201.0,138.6 L203.6,137.4 L206.3,136.3 L209.0,135.2 L211.7,134.2 L214.4,133.2 L217.1,132.3 L219.9,131.5 L222.7,130.7 L225.5,129.9 L228.3,129.2 L231.1,128.5 L234.0,127.8 L236.9,127.2 L239.8,126.7 L242.7,126.1 L245.6,125.7 L248.5,125.2 L251.4,124.8 L254.4,124.4 L257.3,124.0 L260.3,123.6 L263.2,123.3 L266.2,123.0 L269.2,122.7 L272.1,122.5 L275.1,122.3 L278.1,122.0 L281.0,121.8 L284.0,121.7 L287.0,121.5 L289.9,121.3 L292.9,121.2 L295.8,121.0 L298.8,120.9 L301.7,120.8 L304.6,120.6 L307.6,120.5 L310.5,120.4 L313.3,120.3 L316.2,120.2 L319.1,120.0 L321.9,119.9 L324.8,119.8 L327.6,119.6 L330.4,119.5 L333.1,119.3 L335.9,119.1" fill="none" stroke="#7d0c0c" stroke-width="3" stroke-dasharray="6.8 8.8"/>
</g>
<rect x="55.8" y="17.2" width="280.4" height="304.8" fill="none" stroke="#505050" stroke-width="1.1"/>
<text x="44.6" y="23.5" font-size="17" text-anchor="end">3</text>
<line x1="55.8" y1="78.3" x2="60.8" y2="78.3" stroke="#808080" stroke-width="1"/>
<text x="44.6" y="84.4" font-size="17" text-anchor="end">2</text>
<line x1="55.8" y1="139.2" x2="60.8" y2="139.2" stroke="#808080" stroke-width="1"/>
<line x1="331.2" y1="139.2" x2="336.2" y2="139.2" stroke="#808080" stroke-width="1"/>
<text x="44.6" y="145.3" font-size="17" text-anchor="end">1</text>
<line x1="55.8" y1="200.2" x2="60.8" y2="200.2" stroke="#808080" stroke-width="1"/>
<line x1="331.2" y1="200.2" x2="336.2" y2="200.2" stroke="#808080" stroke-width="1"/>
<text x="44.6" y="206.3" font-size="17" text-anchor="end">0</text>
<line x1="55.8" y1="261.1" x2="60.8" y2="261.1" stroke="#808080" stroke-width="1"/>
<text x="44.6" y="267.2" font-size="17" text-anchor="end">−1</text>
<text x="44.6" y="328.1" font-size="17" text-anchor="end">−2</text>
<line x1="68.4" y1="322.0" x2="68.4" y2="317.0" stroke="#808080" stroke-width="1"/>
<text x="70.7" y="345.8" font-size="17" text-anchor="middle">2</text>
<line x1="101.9" y1="322.0" x2="101.9" y2="317.0" stroke="#808080" stroke-width="1"/>
<text x="104.2" y="345.8" font-size="17" text-anchor="middle">3</text>
<line x1="135.4" y1="322.0" x2="135.4" y2="317.0" stroke="#808080" stroke-width="1"/>
<text x="137.7" y="345.8" font-size="17" text-anchor="middle">4</text>
<line x1="168.9" y1="322.0" x2="168.9" y2="317.0" stroke="#808080" stroke-width="1"/>
<text x="171.2" y="345.8" font-size="17" text-anchor="middle">5</text>
<line x1="202.4" y1="322.0" x2="202.4" y2="317.0" stroke="#808080" stroke-width="1"/>
<text x="204.7" y="345.8" font-size="17" text-anchor="middle">6</text>
<line x1="235.9" y1="322.0" x2="235.9" y2="317.0" stroke="#808080" stroke-width="1"/>
<text x="238.2" y="345.8" font-size="17" text-anchor="middle">7</text>
<line x1="269.4" y1="322.0" x2="269.4" y2="317.0" stroke="#808080" stroke-width="1"/>
<text x="271.7" y="345.8" font-size="17" text-anchor="middle">8</text>
<line x1="302.9" y1="322.0" x2="302.9" y2="317.0" stroke="#808080" stroke-width="1"/>
<text x="305.2" y="345.8" font-size="17" text-anchor="middle">9</text>
<text x="339.2" y="345.8" font-size="17" text-anchor="middle">10</text>
<line x1="59" y1="322" x2="59" y2="346.5" stroke="#404040" stroke-width="1"/>
<line x1="85.3" y1="322" x2="85.3" y2="346.5" stroke="#404040" stroke-width="1"/>
<text x="52.6" y="362.6" font-size="16" fill="#0000ff">R<tspan font-size="12" dy="3">c</tspan></text>
<text x="82.4" y="362.6" font-size="16">R<tspan font-size="12" dy="3">opt</tspan></text>
<text x="167" y="369" font-size="17">R<tspan font-size="12.5" dy="4">Rb</tspan><tspan dy="-4"> (Å)</tspan></text>
<text transform="translate(12.8,169.9) rotate(-90)" font-size="17.4" text-anchor="middle">Energy (eV)</text>
<circle cx="59.6" cy="55" r="7.3" fill="#0000ff"/>
<circle cx="185.8" cy="130.1" r="7.2" fill="#ff0000"/>
<circle cx="128.8" cy="212.6" r="7.2" fill="#ff0000"/>
<path d="M336.2,113.2 L342.8,105.3 M336.2,121 L342,121 M336.2,134.2 L342.8,145.5" stroke="#303030" stroke-width="1" fill="none"/>
</g>
<text x="346.6" y="40.6" font-size="15">Rb</text><path d="M367.5,29.7 h5.8 M370.4,26.8 v5.8" stroke="#000" stroke-width="1" fill="none"/><text x="377.3" y="40.6" font-size="15">(</text><text x="383.2" y="34.4" font-size="11">1</text><text x="388.6" y="40.6" font-size="15">S</text><text x="399.3" y="40.6" font-size="15">)</text><path d="M408.9,35.7 h8.4 M413.1,31.4 v8.6" stroke="#000" stroke-width="1.25" fill="none"/><text x="420.3" y="40.6" font-size="15">OH</text><path d="M444.6,29.0 h7" stroke="#000" stroke-width="1" fill="none"/>
<text x="346.6" y="105.8" font-size="15">Rb</text><text x="370.6" y="105.8" font-size="15">(</text><text x="376.2" y="99.6" font-size="11">2</text><text x="382.6" y="105.8" font-size="15">S</text><text x="393.2" y="105.8" font-size="15">)</text><path d="M402.9,100.9 h8.4 M407.1,96.6 v8.6" stroke="#000" stroke-width="1.25" fill="none"/><text x="413.9" y="105.8" font-size="15">OH</text>
<text x="346.6" y="127.2" font-size="15">Rb</text><text x="370.6" y="127.2" font-size="15">(</text><text x="376.2" y="121.0" font-size="11">2</text><text x="382.6" y="127.2" font-size="15">P</text><text x="393.2" y="127.2" font-size="15">)</text><path d="M402.9,122.3 h8.4 M407.1,118.0 v8.6" stroke="#000" stroke-width="1.25" fill="none"/><text x="413.9" y="127.2" font-size="15">OH</text><path d="M437.4,115.6 h7" stroke="#000" stroke-width="1" fill="none"/>
<text x="346.6" y="151.8" font-size="15">Rb</text><path d="M366.8,140.2 h7" stroke="#000" stroke-width="1" fill="none"/><text x="377.6" y="151.8" font-size="15">(</text><text x="383.5" y="145.6" font-size="11">1</text><text x="389.2" y="151.8" font-size="15">S</text><text x="399.6" y="151.8" font-size="15">)</text><path d="M409.8,146.9 h8.4 M414.0,142.6 v8.6" stroke="#000" stroke-width="1.25" fill="none"/><text x="420.6" y="151.8" font-size="15">OH</text>
<text x="346.6" y="206.6" font-size="15">Rb</text><text x="370.6" y="206.6" font-size="15">(</text><text x="376.2" y="200.4" font-size="11">2</text><text x="382.6" y="206.6" font-size="15">S</text><text x="393.2" y="206.6" font-size="15">)</text><path d="M402.9,201.7 h8.4 M407.1,197.4 v8.6" stroke="#000" stroke-width="1.25" fill="none"/><text x="413.9" y="206.6" font-size="15">OH</text><path d="M437.4,195.0 h7" stroke="#000" stroke-width="1" fill="none"/>
<g id="molA">
<line x1="205.9" y1="299.5" x2="301" y2="299.5" stroke="#111" stroke-width="1.3"/>
<line x1="224.2" y1="235.5" x2="253.6" y2="299" stroke="#111" stroke-width="1.2"/>
<path d="M223.6,299 A30,30 0 0 1 240.6,272.2" fill="none" stroke="#111" stroke-width="1.2"/>
<circle cx="224.2" cy="235.5" r="17" fill="url(#gRb)" stroke="#111" stroke-width="0.9"/>
<circle cx="238.5" cy="299" r="11.3" fill="url(#gO)" stroke="#111" stroke-width="0.9"/>
<circle cx="301.3" cy="299.6" r="8.3" fill="url(#gH)" stroke="#111" stroke-width="0.9"/>
<text x="224.2" y="240.6" font-size="14" font-weight="bold" text-anchor="middle">Rb</text>
<text x="238.5" y="303.4" font-size="12" font-weight="bold" text-anchor="middle">O</text>
<text x="301.3" y="303.6" font-size="11" font-weight="bold" text-anchor="middle">H</text>
<text x="136" y="303.6" font-size="21.5">θ = 80°</text>
<text x="244.6" y="271.9" font-size="18">R<tspan font-size="13.2" dy="4">Rb</tspan></text>
<text x="257.2" y="315.3" font-size="18">R<tspan font-size="13.2" dy="4">OH</tspan></text>
</g>
<g id="plotA2">
<clipPath id="cpA2"><rect x="538.8" y="16.2" width="113.6" height="305.4"/></clipPath>
<g clip-path="url(#cpA2)">
<path d="M538.7,25.8 L539.0,27.2 L539.3,28.5 L539.6,29.8 L539.9,31.2 L540.2,32.5 L540.4,33.8 L540.7,35.2 L541.0,36.5 L541.3,37.8 L541.6,39.1 L541.8,40.5 L542.1,41.8 L542.4,43.1 L542.6,44.5 L542.9,45.8 L543.2,47.1 L543.4,48.5 L543.7,49.8 L544.0,51.1 L544.2,52.5 L544.5,53.8 L544.8,55.1 L545.0,56.4 L545.3,57.8 L545.5,59.1 L545.8,60.4 L546.1,61.8 L546.3,63.1 L546.6,64.4 L546.8,65.7 L547.1,67.1 L547.3,68.4 L547.6,69.7 L547.9,71.1 L548.1,72.4 L548.4,73.7 L548.6,75.0 L548.9,76.4 L549.1,77.7 L549.4,79.0 L549.6,80.4 L549.9,81.7 L550.2,83.0 L550.4,84.3 L550.7,85.7 L550.9,87.0 L551.2,88.3 L551.5,89.6 L551.7,91.0 L552.0,92.3 L552.2,93.6 L552.5,94.9 L552.8,96.3 L553.0,97.6 L553.3,98.9 L553.6,100.2 L553.8,101.6 L554.1,102.9 L554.4,104.2 L554.6,105.5 L554.9,106.8 L555.2,108.2 L555.4,109.5 L555.7,110.8 L556.0,112.1 L556.3,113.4 L556.5,114.8 L556.8,116.1 L557.1,117.4 L557.4,118.7 L557.7,120.0 L558.0,121.4 L558.3,122.7 L558.5,124.0 L558.8,125.3 L559.1,126.6 L559.4,127.9 L559.7,129.2 L560.0,130.6 L560.3,131.9 L560.6,133.2 L560.9,134.5 L561.2,135.8 L561.6,137.1 L561.9,138.4 L562.2,139.7 L562.5,141.1 L562.8,142.4 L563.1,143.7 L563.5,145.0 L563.8,146.3 L564.1,147.6 L564.5,148.9 L564.8,150.2 L565.1,151.5 L565.5,152.8 L565.8,154.1 L566.2,155.4 L566.5,156.7 L566.9,158.0 L567.2,159.3 L567.6,160.6 L568.0,161.9 L568.3,163.2 L568.7,164.5 L569.1,165.8 L569.5,167.1 L569.8,168.4 L570.2,169.7 L570.6,171.0 L571.0,172.3 L571.4,173.6 L571.8,174.9 L572.2,176.2 L572.6,177.5 L573.0,178.8 L573.5,180.1 L573.9,181.4 L574.3,182.7 L574.7,183.9 L575.2,185.2 L575.6,186.5 L576.0,187.8 L576.5,189.1 L576.9,190.4 L577.4,191.7 L577.8,192.9 L578.3,194.2 L578.8,195.5 L579.2,196.8 L579.7,198.1 L580.2,199.3 L580.7,200.6 L581.2,201.9 L581.7,203.2 L582.2,204.4 L582.7,205.7 L583.2,207.0 L583.7,208.2 L584.2,209.5 L584.8,210.7 L585.3,212.0 L585.8,213.2 L586.4,214.5 L586.9,215.7 L587.5,217.0 L588.1,218.2 L588.6,219.5 L589.2,220.7 L589.8,221.9 L590.4,223.1 L591.0,224.4 L591.6,225.6 L592.2,226.8 L592.8,228.0 L593.5,229.2 L594.1,230.4 L594.7,231.6 L595.4,232.8 L596.0,234.0 L596.7,235.1 L597.4,236.3 L598.1,237.5 L598.7,238.7 L599.4,239.8 L600.1,241.0 L600.9,242.1 L601.6,243.2 L602.3,244.4 L603.0,245.5 L603.8,246.6 L604.5,247.7 L605.3,248.8 L606.1,249.9 L606.8,251.0 L607.6,252.1 L608.4,253.2 L609.2,254.3 L610.0,255.3 L610.9,256.4 L611.7,257.5 L612.5,258.5 L613.4,259.5 L614.3,260.6 L615.1,261.6 L616.0,262.6 L616.9,263.6 L617.8,264.6 L618.7,265.6 L619.6,266.5 L620.6,267.5 L621.5,268.5 L622.5,269.4 L623.4,270.4 L624.4,271.3 L625.4,272.2 L626.4,273.1 L627.4,274.0 L628.4,274.9 L629.4,275.8 L630.5,276.6 L631.5,277.4 L632.6,278.2 L633.7,279.0 L634.8,279.8 L635.9,280.5 L637.1,281.2 L638.3,281.9 L639.4,282.5 L640.6,283.1 L641.9,283.7 L643.1,284.3 L644.4,284.8 L645.7,285.2 L647.0,285.6 L648.3,286.0 L649.7,286.3 L651.0,286.6 L652.4,286.9 L652.4,16.2 L538.8,16.2 Z" fill="#bebebe"/>
<path d="M538.6,25.8 L538.9,27.2 L539.2,28.6 L539.5,30.0 L539.8,31.4 L540.0,32.8 L540.3,34.2 L540.6,35.5 L540.9,36.9 L541.2,38.3 L541.4,39.7 L541.7,41.1 L542.0,42.5 L542.3,43.9 L542.5,45.3 L542.8,46.6 L543.1,48.0 L543.4,49.4 L543.6,50.8 L543.9,52.2 L544.2,53.6 L544.5,55.0 L544.7,56.4 L545.0,57.7 L545.3,59.1 L545.5,60.5 L545.8,61.9 L546.1,63.3 L546.3,64.7 L546.6,66.0 L546.9,67.4 L547.2,68.8 L547.4,70.2 L547.7,71.6 L548.0,73.0 L548.2,74.4 L548.5,75.7 L548.8,77.1 L549.0,78.5 L549.3,79.9 L549.6,81.3 L549.9,82.6 L550.1,84.0 L550.4,85.4 L550.7,86.8 L550.9,88.2 L551.2,89.6 L551.5,90.9 L551.8,92.3 L552.0,93.7 L552.3,95.1 L552.6,96.5 L552.9,97.8 L553.2,99.2 L553.4,100.6 L553.7,102.0 L554.0,103.3 L554.3,104.7 L554.6,106.1 L554.9,107.5 L555.1,108.9 L555.4,110.2 L555.7,111.6 L556.0,113.0 L556.3,114.4 L556.6,115.7 L556.9,117.1 L557.2,118.5 L557.5,119.8 L557.8,121.2 L558.1,122.6 L558.4,124.0 L558.7,125.3 L559.0,126.7 L559.3,128.1 L559.6,129.4 L559.9,130.8 L560.3,132.2 L560.6,133.5 L560.9,134.9 L561.2,136.3 L561.5,137.7 L561.9,139.0 L562.2,140.4 L562.5,141.8 L562.9,143.1 L563.2,144.5 L563.5,145.8 L563.9,147.2 L564.2,148.6 L564.6,149.9 L564.9,151.3 L565.3,152.7 L565.6,154.0 L566.0,155.4 L566.3,156.7 L566.7,158.1 L567.0,159.5 L567.4,160.8 L567.8,162.2 L568.2,163.5 L568.5,164.9 L568.9,166.2 L569.3,167.6 L569.7,168.9 L570.1,170.3 L570.5,171.7 L570.9,173.0 L571.3,174.4 L571.7,175.7 L572.1,177.1 L572.5,178.4 L572.9,179.8 L573.3,181.1 L573.7,182.5 L574.1,183.8 L574.6,185.1 L575.0,186.5 L575.4,187.8 L575.9,189.2 L576.3,190.5 L576.8,191.9 L577.2,193.2 L577.7,194.6 L578.1,195.9 L578.6,197.2 L579.1,198.6 L579.5,199.9 L580.0,201.2 L580.5,202.6 L581.0,203.9 L581.5,205.3 L582.0,206.6 L582.5,207.9 L583.0,209.2 L583.5,210.6 L584.0,211.9 L584.5,213.2 L585.0,214.5 L585.6,215.8 L586.1,217.2 L586.6,218.5 L587.2,219.8 L587.7,221.1 L588.3,222.4 L588.8,223.7 L589.4,225.0 L590.0,226.3 L590.6,227.6 L591.1,228.9 L591.7,230.2 L592.3,231.5 L592.9,232.7 L593.5,234.0 L594.2,235.3 L594.8,236.6 L595.4,237.8 L596.0,239.1 L596.7,240.3 L597.3,241.6 L598.0,242.8 L598.6,244.1 L599.3,245.3 L600.0,246.6 L600.7,247.8 L601.3,249.0 L602.0,250.3 L602.7,251.5 L603.4,252.7 L604.2,253.9 L604.9,255.1 L605.6,256.3 L606.4,257.5 L607.1,258.7 L607.9,259.9 L608.6,261.0 L609.4,262.2 L610.2,263.4 L610.9,264.5 L611.7,265.7 L612.5,266.9 L613.3,268.0 L614.2,269.1 L615.0,270.3 L615.8,271.4 L616.7,272.5 L617.5,273.6 L618.4,274.7 L619.2,275.8 L620.1,276.9 L621.0,278.0 L621.9,279.1 L622.8,280.2 L623.7,281.2 L624.6,282.3 L625.5,283.3 L626.5,284.4 L627.4,285.4 L628.4,286.4 L629.4,287.4 L630.3,288.4 L631.3,289.4 L632.3,290.4 L633.4,291.3 L634.4,292.3 L635.5,293.2 L636.5,294.1 L637.6,295.0 L638.7,295.8 L639.9,296.6 L641.0,297.5 L642.2,298.2 L643.4,299.0 L644.6,299.7 L645.8,300.4 L647.1,301.1 L648.3,301.8 L649.6,302.4 L651.0,303.0 L652.3,303.5" fill="none" stroke="#0000ff" stroke-width="1.5"/>
<path d="M538.7,25.8 L539.0,27.2 L539.3,28.5 L539.6,29.8 L539.9,31.2 L540.2,32.5 L540.4,33.8 L540.7,35.2 L541.0,36.5 L541.3,37.8 L541.6,39.1 L541.8,40.5 L542.1,41.8 L542.4,43.1 L542.6,44.5 L542.9,45.8 L543.2,47.1 L543.4,48.5 L543.7,49.8 L544.0,51.1 L544.2,52.5 L544.5,53.8 L544.8,55.1 L545.0,56.4 L545.3,57.8 L545.5,59.1 L545.8,60.4 L546.1,61.8 L546.3,63.1 L546.6,64.4 L546.8,65.7 L547.1,67.1 L547.3,68.4 L547.6,69.7 L547.9,71.1 L548.1,72.4 L548.4,73.7 L548.6,75.0 L548.9,76.4 L549.1,77.7 L549.4,79.0 L549.6,80.4 L549.9,81.7 L550.2,83.0 L550.4,84.3 L550.7,85.7 L550.9,87.0 L551.2,88.3 L551.5,89.6 L551.7,91.0 L552.0,92.3 L552.2,93.6 L552.5,94.9 L552.8,96.3 L553.0,97.6 L553.3,98.9 L553.6,100.2 L553.8,101.6 L554.1,102.9 L554.4,104.2 L554.6,105.5 L554.9,106.8 L555.2,108.2 L555.4,109.5 L555.7,110.8 L556.0,112.1 L556.3,113.4 L556.5,114.8 L556.8,116.1 L557.1,117.4 L557.4,118.7 L557.7,120.0 L558.0,121.4 L558.3,122.7 L558.5,124.0 L558.8,125.3 L559.1,126.6 L559.4,127.9 L559.7,129.2 L560.0,130.6 L560.3,131.9 L560.6,133.2 L560.9,134.5 L561.2,135.8 L561.6,137.1 L561.9,138.4 L562.2,139.7 L562.5,141.1 L562.8,142.4 L563.1,143.7 L563.5,145.0 L563.8,146.3 L564.1,147.6 L564.5,148.9 L564.8,150.2 L565.1,151.5 L565.5,152.8 L565.8,154.1 L566.2,155.4 L566.5,156.7 L566.9,158.0 L567.2,159.3 L567.6,160.6 L568.0,161.9 L568.3,163.2 L568.7,164.5 L569.1,165.8 L569.5,167.1 L569.8,168.4 L570.2,169.7 L570.6,171.0 L571.0,172.3 L571.4,173.6 L571.8,174.9 L572.2,176.2 L572.6,177.5 L573.0,178.8 L573.5,180.1 L573.9,181.4 L574.3,182.7 L574.7,183.9 L575.2,185.2 L575.6,186.5 L576.0,187.8 L576.5,189.1 L576.9,190.4 L577.4,191.7 L577.8,192.9 L578.3,194.2 L578.8,195.5 L579.2,196.8 L579.7,198.1 L580.2,199.3 L580.7,200.6 L581.2,201.9 L581.7,203.2 L582.2,204.4 L582.7,205.7 L583.2,207.0 L583.7,208.2 L584.2,209.5 L584.8,210.7 L585.3,212.0 L585.8,213.2 L586.4,214.5 L586.9,215.7 L587.5,217.0 L588.1,218.2 L588.6,219.5 L589.2,220.7 L589.8,221.9 L590.4,223.1 L591.0,224.4 L591.6,225.6 L592.2,226.8 L592.8,228.0 L593.5,229.2 L594.1,230.4 L594.7,231.6 L595.4,232.8 L596.0,234.0 L596.7,235.1 L597.4,236.3 L598.1,237.5 L598.7,238.7 L599.4,239.8 L600.1,241.0 L600.9,242.1 L601.6,243.2 L602.3,244.4 L603.0,245.5 L603.8,246.6 L604.5,247.7 L605.3,248.8 L606.1,249.9 L606.8,251.0 L607.6,252.1 L608.4,253.2 L609.2,254.3 L610.0,255.3 L610.9,256.4 L611.7,257.5 L612.5,258.5 L613.4,259.5 L614.3,260.6 L615.1,261.6 L616.0,262.6 L616.9,263.6 L617.8,264.6 L618.7,265.6 L619.6,266.5 L620.6,267.5 L621.5,268.5 L622.5,269.4 L623.4,270.4 L624.4,271.3 L625.4,272.2 L626.4,273.1 L627.4,274.0 L628.4,274.9 L629.4,275.8 L630.5,276.6 L631.5,277.4 L632.6,278.2 L633.7,279.0 L634.8,279.8 L635.9,280.5 L637.1,281.2 L638.3,281.9 L639.4,282.5 L640.6,283.1 L641.9,283.7 L643.1,284.3 L644.4,284.8 L645.7,285.2 L647.0,285.6 L648.3,286.0 L649.7,286.3 L651.0,286.6 L652.4,286.9" fill="none" stroke="#585858" stroke-width="1.5"/>
<line x1="538.8" y1="133.9" x2="652.4" y2="133.9" stroke="#404040" stroke-width="1" stroke-dasharray="1.6 2.4"/>
</g>
<line x1="563.8" y1="148" x2="563.8" y2="321.6" stroke="#3030ff" stroke-width="1" stroke-dasharray="1.6 2.4"/>
<line x1="563.8" y1="321.6" x2="563.8" y2="327.5" stroke="#404040" stroke-width="1"/>
<rect x="538.8" y="16.2" width="113.6" height="305.4" fill="none" stroke="#505050" stroke-width="1.1"/>
<line x1="538.8" y1="47.5" x2="543.8" y2="47.5" stroke="#808080" stroke-width="1"/>
<text x="528.2" y="53.6" font-size="17" text-anchor="end">1</text>
<line x1="538.8" y1="90.7" x2="543.8" y2="90.7" stroke="#808080" stroke-width="1"/>
<text x="528.2" y="96.8" font-size="17" text-anchor="end">0.5</text>
<line x1="538.8" y1="133.9" x2="543.8" y2="133.9" stroke="#808080" stroke-width="1"/>
<text x="528.2" y="140.0" font-size="17" text-anchor="end">0</text>
<line x1="538.8" y1="177.0" x2="543.8" y2="177.0" stroke="#808080" stroke-width="1"/>
<text x="528.2" y="183.1" font-size="17" text-anchor="end">−0.5</text>
<line x1="538.8" y1="220.2" x2="543.8" y2="220.2" stroke="#808080" stroke-width="1"/>
<text x="528.2" y="226.3" font-size="17" text-anchor="end">−1</text>
<line x1="538.8" y1="263.4" x2="543.8" y2="263.4" stroke="#808080" stroke-width="1"/>
<text x="528.2" y="269.5" font-size="17" text-anchor="end">−1.5</text>
<line x1="538.8" y1="306.6" x2="543.8" y2="306.6" stroke="#808080" stroke-width="1"/>
<text x="528.2" y="312.7" font-size="17" text-anchor="end">−2</text>
<text x="541.5" y="344.8" font-size="17" text-anchor="middle">1.8</text>
<line x1="584.4" y1="321.6" x2="584.4" y2="316.6" stroke="#808080" stroke-width="1"/>
<text x="586.6" y="344.8" font-size="17" text-anchor="middle">2</text>
<line x1="629.5" y1="321.6" x2="629.5" y2="316.6" stroke="#808080" stroke-width="1"/>
<text x="631.7" y="344.8" font-size="17" text-anchor="middle">2.2</text>
<text x="562.5" y="344.8" font-size="16" fill="#0000ff">R<tspan font-size="12" dy="3">c</tspan></text>
<text x="567.2" y="368.6" font-size="17">R<tspan font-size="12.5" dy="4">Rb</tspan><tspan dy="-4"> (Å)</tspan></text>
<text transform="translate(475.2,168.9) rotate(-90)" font-size="17.4" text-anchor="middle">Energy (eV)</text>
<circle cx="563.8" cy="148" r="7.3" fill="#0000ff"/>
<text x="567.5" y="304.4" font-size="21.5">θ = 0°</text>
</g>
<g id="spheres">
<clipPath id="cs1"><ellipse cx="241.2" cy="448.9" rx="36.0" ry="33.7" transform="rotate(-15.0 241.2 448.9)"/></clipPath>
<ellipse cx="241.2" cy="448.9" rx="36.0" ry="33.7" transform="rotate(-15.0 241.2 448.9)" fill="#84f684"/>
<g clip-path="url(#cs1)" fill="none" stroke="#3f96b0" stroke-width="0.50">
<ellipse cx="242.2" cy="422.6" rx="1.8" ry="1.1" transform="rotate(-20 242.2 422.6)"/>
<ellipse cx="241.2" cy="424.9" rx="16.4" ry="9.3"/>
<ellipse cx="241.2" cy="427.0" rx="20.9" ry="11.8"/>
<path d="M256.2,418.3 A24.8,13.9 0 1 1 226.2,418.3"/>
<path d="M262.7,421.8 A27.6,15.6 0 1 1 219.7,421.8"/>
<path d="M267.9,426.3 A30.4,17.1 0 1 1 214.5,426.3"/>
<path d="M271.3,430.4 A32.3,18.2 0 1 1 211.1,430.4"/>
<path d="M273.9,434.8 A33.9,19.1 0 1 1 208.5,434.8"/>
<path d="M275.8,439.5 A35.1,19.8 0 1 1 206.6,439.5"/>
<path d="M276.8,443.8 A35.7,20.1 0 1 1 205.6,443.8"/>
<path d="M277.2,448.5 A36.0,20.3 0 1 1 205.2,448.5"/>
<path d="M276.9,453.2 A35.8,20.2 0 0 1 205.5,453.2"/>
<path d="M276.0,457.6 A35.2,19.8 0 0 1 206.4,457.6"/>
<path d="M274.3,462.1 A34.2,19.3 0 0 1 208.1,462.1"/>
<path d="M271.8,466.6 A32.7,18.4 0 0 1 210.6,466.6"/>
<path d="M268.3,471.1 A30.6,17.3 0 0 1 214.1,471.1"/>
<path d="M263.9,475.1 A28.2,15.9 0 0 1 218.5,475.1"/>
</g>
<ellipse cx="241.2" cy="448.9" rx="36.0" ry="33.7" transform="rotate(-15.0 241.2 448.9)" fill="none" stroke="#4f80d8" stroke-width="0.9"/>
<clipPath id="cs2"><path d="M469.5,428.9 L468.6,424.1 L467.3,419.5 L465.5,415.0 L463.3,410.8 L460.7,406.7 L457.6,403.0 L454.2,399.5 L450.3,396.4 L446.2,393.6 L441.7,391.2 L436.9,389.2 L431.9,387.6 L426.7,386.4 L421.3,385.7 L415.8,385.3 L410.3,385.4 L404.7,386.0 L399.2,386.9 L393.8,388.3 L388.5,390.1 L383.4,392.2 L378.5,394.8 L373.9,397.6 L369.6,400.8 L365.7,404.3 L362.2,408.1 L359.1,412.1 L356.4,416.4 L354.2,420.8 L352.4,425.3 L351.1,430.0 L350.4,434.8 L350.1,439.6 L350.3,444.4 L351.0,449.2 L352.1,453.9 L353.7,458.5 L355.7,463.0 L358.1,467.3 L360.9,471.5 L364.1,475.4 L367.5,479.1 L371.3,482.5 L375.3,485.5 L379.5,488.3 L384.0,490.7 L388.6,492.8 L393.3,494.4 L398.1,495.7 L402.9,496.6 L407.8,497.0 L412.7,497.1 L417.6,496.7 L422.4,495.9 L427.1,494.7 L431.7,493.0 L436.1,491.0 L440.4,488.6 L444.5,485.8 L448.4,482.7 L452.0,479.3 L455.4,475.5 L458.4,471.5 L461.2,467.3 L463.6,462.8 L465.6,458.2 L467.3,453.5 L468.6,448.6 L469.5,443.7 L469.9,438.7 L469.9,433.8 Z"/></clipPath>
<path d="M469.5,428.9 L468.6,424.1 L467.3,419.5 L465.5,415.0 L463.3,410.8 L460.7,406.7 L457.6,403.0 L454.2,399.5 L450.3,396.4 L446.2,393.6 L441.7,391.2 L436.9,389.2 L431.9,387.6 L426.7,386.4 L421.3,385.7 L415.8,385.3 L410.3,385.4 L404.7,386.0 L399.2,386.9 L393.8,388.3 L388.5,390.1 L383.4,392.2 L378.5,394.8 L373.9,397.6 L369.6,400.8 L365.7,404.3 L362.2,408.1 L359.1,412.1 L356.4,416.4 L354.2,420.8 L352.4,425.3 L351.1,430.0 L350.4,434.8 L350.1,439.6 L350.3,444.4 L351.0,449.2 L352.1,453.9 L353.7,458.5 L355.7,463.0 L358.1,467.3 L360.9,471.5 L364.1,475.4 L367.5,479.1 L371.3,482.5 L375.3,485.5 L379.5,488.3 L384.0,490.7 L388.6,492.8 L393.3,494.4 L398.1,495.7 L402.9,496.6 L407.8,497.0 L412.7,497.1 L417.6,496.7 L422.4,495.9 L427.1,494.7 L431.7,493.0 L436.1,491.0 L440.4,488.6 L444.5,485.8 L448.4,482.7 L452.0,479.3 L455.4,475.5 L458.4,471.5 L461.2,467.3 L463.6,462.8 L465.6,458.2 L467.3,453.5 L468.6,448.6 L469.5,443.7 L469.9,438.7 L469.9,433.8 Z" fill="#84f684"/>
<g clip-path="url(#cs2)" fill="none" stroke="#3f96b0" stroke-width="0.50">
<ellipse cx="410.8" cy="396.0" rx="15.9" ry="8.2"/>
<ellipse cx="410.8" cy="397.8" rx="22.7" ry="11.7"/>
<ellipse cx="410.8" cy="399.8" rx="28.5" ry="14.7"/>
<ellipse cx="410.8" cy="402.0" rx="33.1" ry="17.0"/>
<path d="M428.7,387.4 A36.8,18.9 0 1 1 392.9,387.4"/>
<path d="M437.4,390.6 A40.2,20.7 0 1 1 384.2,390.6"/>
<path d="M443.8,394.0 A43.4,22.3 0 1 1 377.8,394.0"/>
<path d="M448.8,397.4 A46.1,23.8 0 1 1 372.8,397.4"/>
<path d="M452.9,400.7 A48.5,25.0 0 1 1 368.7,400.7"/>
<path d="M456.3,404.1 A50.6,26.1 0 1 1 365.3,404.1"/>
<path d="M459.4,407.7 A52.6,27.1 0 1 1 362.2,407.7"/>
<path d="M462.1,411.3 A54.3,28.0 0 1 1 359.5,411.3"/>
<path d="M464.2,414.8 A55.7,28.7 0 1 1 357.4,414.8"/>
<path d="M466.3,418.7 A57.0,29.4 0 1 1 355.3,418.7"/>
<path d="M467.8,422.4 A58.1,29.9 0 1 1 353.8,422.4"/>
<path d="M469.0,426.2 A58.9,30.3 0 1 1 352.6,426.2"/>
<path d="M470.0,430.2 A59.6,30.7 0 1 1 351.6,430.2"/>
<path d="M470.7,434.2 A60.0,30.9 0 1 1 350.9,434.2"/>
<path d="M471.0,438.2 A60.3,31.0 0 1 1 350.6,438.2"/>
<path d="M471.1,442.3 A60.3,31.1 0 0 1 350.5,442.3"/>
<path d="M470.8,446.5 A60.1,30.9 0 0 1 350.8,446.5"/>
<path d="M470.1,450.7 A59.6,30.7 0 0 1 351.5,450.7"/>
<path d="M469.0,455.1 A58.9,30.3 0 0 1 352.6,455.1"/>
<path d="M467.5,459.4 A57.9,29.8 0 0 1 354.1,459.4"/>
<path d="M465.6,463.9 A56.5,29.1 0 0 1 356.0,463.9"/>
<path d="M463.1,468.3 A54.9,28.3 0 0 1 358.5,468.3"/>
<path d="M460.1,472.7 A52.9,27.3 0 0 1 361.5,472.7"/>
<path d="M456.1,477.3 A50.5,26.0 0 0 1 365.5,477.3"/>
<path d="M450.7,482.4 A47.2,24.3 0 0 1 370.9,482.4"/>
<path d="M444.2,487.0 A43.6,22.5 0 0 1 377.4,487.0"/>
</g>
<path d="M469.5,428.9 L468.6,424.1 L467.3,419.5 L465.5,415.0 L463.3,410.8 L460.7,406.7 L457.6,403.0 L454.2,399.5 L450.3,396.4 L446.2,393.6 L441.7,391.2 L436.9,389.2 L431.9,387.6 L426.7,386.4 L421.3,385.7 L415.8,385.3 L410.3,385.4 L404.7,386.0 L399.2,386.9 L393.8,388.3 L388.5,390.1 L383.4,392.2 L378.5,394.8 L373.9,397.6 L369.6,400.8 L365.7,404.3 L362.2,408.1 L359.1,412.1 L356.4,416.4 L354.2,420.8 L352.4,425.3 L351.1,430.0 L350.4,434.8 L350.1,439.6 L350.3,444.4 L351.0,449.2 L352.1,453.9 L353.7,458.5 L355.7,463.0 L358.1,467.3 L360.9,471.5 L364.1,475.4 L367.5,479.1 L371.3,482.5 L375.3,485.5 L379.5,488.3 L384.0,490.7 L388.6,492.8 L393.3,494.4 L398.1,495.7 L402.9,496.6 L407.8,497.0 L412.7,497.1 L417.6,496.7 L422.4,495.9 L427.1,494.7 L431.7,493.0 L436.1,491.0 L440.4,488.6 L444.5,485.8 L448.4,482.7 L452.0,479.3 L455.4,475.5 L458.4,471.5 L461.2,467.3 L463.6,462.8 L465.6,458.2 L467.3,453.5 L468.6,448.6 L469.5,443.7 L469.9,438.7 L469.9,433.8 Z" fill="none" stroke="#4f80d8" stroke-width="0.9"/>
<path d="M245.8,648.4 L247.8,648.6 L249.7,648.8 L251.7,649.1 L253.6,649.5 L255.5,650.1 L257.3,650.7 L259.1,651.4 L260.8,652.2 L262.5,653.0 L264.1,654.0 L265.6,655.1 L266.9,656.2 L268.2,657.5 L269.4,658.9 L270.4,660.3 L271.4,661.8 L272.1,663.5 L272.8,665.2 L273.3,667.0 L273.6,668.8 L273.9,670.8 L274.0,672.7 L274.1,674.7 L274.0,676.6 L273.9,678.6 L273.7,680.5 L273.5,682.4 L273.2,684.3 L273.0,686.1 L272.7,687.9 L272.5,689.7 L272.3,691.5 L272.3,693.3 L272.3,695.2 L272.4,697.1 L272.5,699.0 L272.5,700.9 L272.4,702.8 L272.1,704.6 L271.6,706.5 L270.9,708.2 L270.0,709.9 L269.0,711.6 L267.9,713.1 L266.7,714.6 L265.3,716.0 L263.9,717.3 L262.4,718.4 L260.8,719.5 L259.1,720.4 L257.5,721.2 L255.7,721.9 L253.9,722.5 L252.1,722.9 L250.3,723.2 L248.4,723.5 L246.6,723.6 L244.7,723.6 L242.8,723.5 L240.9,723.3 L239.0,723.0 L237.1,722.6 L235.3,722.1 L233.5,721.5 L231.6,720.8 L229.9,720.0 L228.1,719.2 L226.5,718.3 L224.8,717.2 L223.3,716.1 L221.7,715.0 L220.3,713.7 L218.9,712.4 L217.6,711.0 L216.4,709.5 L215.3,708.0 L214.3,706.4 L213.3,704.8 L212.4,703.1 L211.6,701.4 L211.0,699.6 L210.3,697.8 L209.8,696.0 L209.4,694.1 L209.0,692.3 L208.8,690.4 L208.6,688.5 L208.5,686.5 L208.5,684.6 L208.5,682.7 L208.7,680.8 L209.0,678.9 L209.3,677.0 L209.7,675.2 L210.2,673.3 L210.8,671.5 L211.4,669.7 L212.2,668.0 L213.0,666.3 L213.9,664.7 L214.9,663.1 L215.9,661.6 L217.1,660.1 L218.3,658.7 L219.5,657.4 L220.9,656.2 L222.3,655.0 L223.8,654.0 L225.4,653.0 L227.0,652.1 L228.7,651.3 L230.5,650.6 L232.3,650.0 L234.2,649.5 L236.0,649.1 L238.0,648.8 L239.9,648.5 L241.9,648.4 L243.8,648.4 Z" fill="#84f684" stroke="#4f80d8" stroke-width="1.3"/>
<g fill="none" stroke="#3f96b0" stroke-width="0.50">
<path d="M244.9,671.7 L246.4,671.8 L247.8,672.1 L249.2,672.5 L250.5,673.1 L251.8,673.8 L252.9,674.6 L253.9,675.4 L254.8,676.4 L255.7,677.5 L256.4,678.7 L257.1,680.1 L257.6,681.6 L258.0,683.2 L258.2,685.0 L258.1,686.7 L257.9,688.5 L257.4,690.1 L256.9,691.5 L256.2,692.8 L255.4,694.0 L254.5,695.2 L253.4,696.2 L252.3,697.1 L251.1,697.8 L249.8,698.4 L248.5,698.9 L247.2,699.2 L245.9,699.5 L244.5,699.5 L243.1,699.5 L241.7,699.3 L240.3,698.9 L239.0,698.4 L237.7,697.8 L236.5,697.0 L235.3,696.2 L234.3,695.2 L233.4,694.1 L232.6,692.9 L231.9,691.6 L231.3,690.3 L230.9,688.9 L230.6,687.4 L230.5,686.0 L230.6,684.5 L230.7,683.0 L231.1,681.6 L231.6,680.2 L232.2,678.9 L232.9,677.7 L233.8,676.6 L234.7,675.6 L235.7,674.7 L236.8,673.9 L238.0,673.2 L239.3,672.7 L240.6,672.2 L242.0,671.9 L243.5,671.7 Z"/>
<path d="M245.2,665.4 L247.3,665.6 L249.4,666.0 L251.4,666.7 L253.3,667.5 L255.1,668.5 L256.7,669.6 L258.2,670.9 L259.5,672.3 L260.6,673.9 L261.7,675.7 L262.5,677.7 L263.2,679.9 L263.7,682.3 L263.9,684.7 L263.8,687.2 L263.5,689.6 L262.9,692.0 L262.2,694.1 L261.3,696.0 L260.2,697.8 L258.9,699.4 L257.5,700.9 L255.8,702.2 L254.1,703.3 L252.3,704.2 L250.4,705.0 L248.5,705.5 L246.6,705.8 L244.5,705.9 L242.5,705.8 L240.5,705.5 L238.5,704.9 L236.5,704.2 L234.7,703.3 L232.9,702.2 L231.3,700.9 L229.8,699.5 L228.4,697.9 L227.3,696.2 L226.3,694.3 L225.5,692.4 L224.9,690.4 L224.5,688.3 L224.3,686.1 L224.4,684.0 L224.6,681.9 L225.1,679.8 L225.8,677.8 L226.7,675.9 L227.8,674.2 L229.0,672.6 L230.3,671.1 L231.8,669.8 L233.4,668.6 L235.1,667.6 L236.9,666.8 L238.9,666.1 L240.9,665.7 L243.0,665.4 Z"/>
<path d="M245.3,661.0 L247.9,661.3 L250.5,661.8 L252.9,662.5 L255.2,663.5 L257.4,664.7 L259.3,666.1 L261.1,667.7 L262.7,669.5 L264.0,671.5 L265.1,673.7 L266.1,676.2 L266.8,678.8 L267.2,681.6 L267.4,684.5 L267.2,687.4 L266.8,690.3 L266.3,693.1 L265.5,695.7 L264.6,698.0 L263.4,700.2 L262.0,702.3 L260.2,704.1 L258.3,705.8 L256.2,707.2 L254.0,708.3 L251.8,709.2 L249.4,709.8 L247.0,710.2 L244.6,710.3 L242.1,710.2 L239.6,709.8 L237.2,709.2 L234.8,708.3 L232.6,707.1 L230.4,705.8 L228.4,704.2 L226.6,702.5 L225.0,700.5 L223.6,698.4 L222.4,696.2 L221.5,693.8 L220.7,691.4 L220.3,688.8 L220.1,686.2 L220.1,683.6 L220.5,681.1 L221.0,678.6 L221.9,676.2 L222.9,673.9 L224.2,671.7 L225.6,669.8 L227.2,668.0 L229.0,666.3 L231.0,664.9 L233.0,663.7 L235.3,662.7 L237.7,661.9 L240.2,661.4 L242.7,661.1 Z"/>
<path d="M245.5,657.7 L248.4,658.0 L251.3,658.5 L254.1,659.4 L256.7,660.5 L259.2,661.9 L261.4,663.5 L263.4,665.3 L265.1,667.4 L266.5,669.7 L267.7,672.3 L268.6,675.1 L269.2,678.1 L269.6,681.2 L269.6,684.4 L269.4,687.6 L269.0,690.8 L268.5,693.9 L267.9,696.8 L267.0,699.5 L265.8,702.0 L264.2,704.4 L262.3,706.6 L260.2,708.5 L257.9,710.2 L255.4,711.5 L252.8,712.5 L250.1,713.2 L247.4,713.7 L244.6,713.8 L241.8,713.6 L239.0,713.2 L236.2,712.4 L233.5,711.4 L230.9,710.1 L228.5,708.6 L226.2,706.8 L224.2,704.8 L222.4,702.6 L220.8,700.2 L219.5,697.6 L218.4,694.9 L217.6,692.1 L217.1,689.2 L216.9,686.3 L216.9,683.4 L217.3,680.5 L217.9,677.6 L218.9,674.9 L220.0,672.3 L221.4,669.8 L223.0,667.6 L224.9,665.5 L226.9,663.7 L229.1,662.0 L231.5,660.6 L234.0,659.5 L236.7,658.6 L239.6,658.0 L242.5,657.7 Z"/>
<path d="M245.5,655.2 L247.2,655.3 L248.8,655.5 L250.4,655.8 L251.9,656.1 L253.5,656.5 L255.0,657.1 L256.4,657.6 L257.8,658.3 L259.2,659.0 L260.5,659.8 L261.7,660.6 L262.9,661.5 L264.0,662.5 L265.0,663.6 L265.9,664.7 L266.8,665.9 L267.6,667.1 L268.3,668.4 L268.9,669.8 L269.4,671.3 L269.9,672.8 L270.3,674.3 L270.6,676.0 L270.8,677.6 L271.0,679.3 L271.1,681.0 L271.1,682.7 L271.0,684.4 L270.9,686.1 L270.7,687.7 L270.5,689.4 L270.3,691.1 L270.1,692.7 L269.9,694.4 L269.6,696.0 L269.4,697.5 L269.1,699.0 L268.6,700.5 L268.1,701.9 L267.5,703.3 L266.7,704.7 L265.9,706.0 L264.9,707.2 L263.9,708.4 L262.8,709.5 L261.6,710.5 L260.3,711.5 L259.1,712.4 L257.7,713.2 L256.4,713.9 L255.0,714.5 L253.6,715.0 L252.1,715.4 L250.7,715.8 L249.2,716.1 L247.7,716.2 L246.2,716.4 L244.6,716.4 L243.1,716.3 L241.6,716.2 L240.0,716.0 L238.5,715.7 L237.0,715.3 L235.5,714.8 L234.0,714.3 L232.5,713.7 L231.1,713.0 L229.7,712.3 L228.4,711.5 L227.1,710.6 L225.8,709.6 L224.6,708.6 L223.5,707.6 L222.4,706.4 L221.4,705.3 L220.5,704.0 L219.6,702.8 L218.8,701.4 L218.0,700.1 L217.3,698.7 L216.7,697.2 L216.2,695.7 L215.7,694.2 L215.4,692.7 L215.0,691.1 L214.8,689.6 L214.6,688.0 L214.6,686.4 L214.6,684.8 L214.6,683.2 L214.8,681.6 L215.0,680.0 L215.3,678.5 L215.7,677.0 L216.1,675.5 L216.7,674.0 L217.2,672.5 L217.9,671.1 L218.6,669.8 L219.4,668.5 L220.2,667.2 L221.1,666.0 L222.1,664.8 L223.1,663.7 L224.2,662.7 L225.3,661.7 L226.5,660.8 L227.7,659.9 L229.0,659.1 L230.3,658.4 L231.7,657.7 L233.1,657.1 L234.6,656.6 L236.1,656.2 L237.6,655.8 L239.1,655.6 L240.7,655.3 L242.3,655.2 L243.9,655.2 Z"/>
<path d="M245.6,653.2 L247.3,653.3 L249.1,653.5 L250.8,653.8 L252.4,654.2 L254.1,654.6 L255.7,655.2 L257.2,655.8 L258.7,656.5 L260.2,657.2 L261.5,658.1 L262.9,659.0 L264.1,660.0 L265.2,661.0 L266.3,662.2 L267.3,663.4 L268.2,664.6 L269.0,666.0 L269.7,667.4 L270.3,668.9 L270.8,670.5 L271.2,672.1 L271.5,673.8 L271.8,675.5 L271.9,677.3 L272.0,679.0 L272.1,680.8 L272.0,682.6 L271.9,684.3 L271.8,686.1 L271.6,687.8 L271.4,689.5 L271.2,691.3 L271.0,693.0 L270.8,694.7 L270.7,696.4 L270.5,698.0 L270.2,699.7 L269.9,701.2 L269.4,702.8 L268.8,704.3 L268.0,705.8 L267.1,707.2 L266.2,708.5 L265.1,709.8 L263.9,711.0 L262.7,712.2 L261.4,713.2 L260.0,714.2 L258.6,715.0 L257.2,715.8 L255.7,716.5 L254.2,717.0 L252.7,717.5 L251.1,717.9 L249.5,718.2 L247.9,718.4 L246.3,718.5 L244.6,718.5 L243.0,718.4 L241.4,718.3 L239.7,718.0 L238.1,717.7 L236.5,717.3 L234.9,716.8 L233.3,716.2 L231.8,715.6 L230.2,714.9 L228.8,714.1 L227.3,713.2 L226.0,712.2 L224.6,711.2 L223.4,710.1 L222.1,709.0 L221.0,707.8 L219.9,706.5 L218.9,705.2 L218.0,703.9 L217.1,702.4 L216.3,701.0 L215.6,699.5 L215.0,697.9 L214.4,696.4 L213.9,694.8 L213.5,693.1 L213.2,691.5 L213.0,689.8 L212.8,688.1 L212.7,686.4 L212.7,684.7 L212.8,683.0 L212.9,681.4 L213.2,679.7 L213.5,678.0 L213.9,676.4 L214.4,674.8 L214.9,673.2 L215.5,671.7 L216.2,670.2 L216.9,668.7 L217.8,667.3 L218.6,666.0 L219.6,664.7 L220.6,663.4 L221.7,662.2 L222.8,661.1 L224.0,660.1 L225.2,659.1 L226.6,658.1 L227.9,657.3 L229.3,656.5 L230.8,655.8 L232.3,655.2 L233.9,654.7 L235.5,654.2 L237.1,653.8 L238.8,653.5 L240.5,653.3 L242.2,653.2 L243.9,653.2 Z"/>
<path d="M245.7,651.6 L247.5,651.8 L249.3,652.0 L251.1,652.3 L252.8,652.7 L254.5,653.1 L256.2,653.7 L257.8,654.3 L259.4,655.0 L260.9,655.9 L262.4,656.7 L263.7,657.7 L265.0,658.7 L266.2,659.9 L267.3,661.1 L268.3,662.3 L269.2,663.7 L270.0,665.1 L270.7,666.7 L271.3,668.3 L271.8,669.9 L272.1,671.6 L272.4,673.4 L272.6,675.2 L272.7,677.0 L272.8,678.9 L272.7,680.7 L272.6,682.5 L272.5,684.3 L272.3,686.1 L272.1,687.8 L271.9,689.6 L271.7,691.4 L271.5,693.1 L271.4,694.9 L271.3,696.7 L271.2,698.4 L271.1,700.1 L270.8,701.8 L270.3,703.4 L269.7,705.0 L269.0,706.6 L268.1,708.1 L267.1,709.5 L266.0,710.9 L264.8,712.2 L263.6,713.4 L262.2,714.5 L260.8,715.6 L259.3,716.5 L257.8,717.3 L256.3,718.0 L254.7,718.6 L253.1,719.1 L251.4,719.5 L249.8,719.8 L248.1,720.0 L246.4,720.1 L244.7,720.1 L242.9,720.1 L241.2,719.9 L239.5,719.6 L237.8,719.3 L236.1,718.9 L234.4,718.3 L232.8,717.7 L231.1,717.0 L229.6,716.3 L228.0,715.4 L226.5,714.5 L225.1,713.5 L223.7,712.5 L222.3,711.3 L221.1,710.1 L219.9,708.9 L218.8,707.5 L217.7,706.1 L216.8,704.7 L215.9,703.2 L215.1,701.7 L214.3,700.1 L213.7,698.5 L213.1,696.8 L212.6,695.2 L212.2,693.5 L211.8,691.7 L211.6,690.0 L211.4,688.2 L211.3,686.5 L211.3,684.7 L211.4,682.9 L211.5,681.2 L211.8,679.4 L212.1,677.7 L212.5,676.0 L213.0,674.3 L213.5,672.7 L214.2,671.1 L214.9,669.5 L215.6,668.0 L216.5,666.5 L217.4,665.0 L218.4,663.7 L219.4,662.4 L220.6,661.1 L221.7,659.9 L223.0,658.8 L224.3,657.7 L225.7,656.8 L227.1,655.9 L228.6,655.1 L230.1,654.4 L231.7,653.7 L233.4,653.2 L235.1,652.7 L236.8,652.3 L238.5,652.0 L240.3,651.8 L242.1,651.6 L243.9,651.6 Z"/>
<path d="M245.7,650.4 L247.6,650.5 L249.5,650.7 L251.3,651.0 L253.1,651.4 L254.9,651.9 L256.7,652.5 L258.3,653.2 L260.0,653.9 L261.5,654.7 L263.0,655.7 L264.5,656.7 L265.8,657.8 L267.0,658.9 L268.1,660.2 L269.2,661.5 L270.1,663.0 L270.9,664.5 L271.5,666.1 L272.1,667.7 L272.5,669.5 L272.8,671.3 L273.1,673.1 L273.2,675.0 L273.3,676.9 L273.3,678.7 L273.2,680.6 L273.0,682.5 L272.8,684.3 L272.6,686.1 L272.4,687.9 L272.2,689.7 L272.0,691.4 L271.9,693.2 L271.8,695.0 L271.8,696.9 L271.8,698.7 L271.7,700.4 L271.4,702.2 L271.0,703.9 L270.5,705.6 L269.7,707.2 L268.9,708.8 L267.9,710.3 L266.8,711.8 L265.6,713.2 L264.3,714.4 L262.9,715.6 L261.4,716.7 L259.9,717.7 L258.3,718.5 L256.7,719.3 L255.1,719.9 L253.4,720.4 L251.7,720.8 L250.0,721.2 L248.2,721.4 L246.4,721.5 L244.7,721.5 L242.9,721.4 L241.1,721.2 L239.3,720.9 L237.5,720.6 L235.8,720.1 L234.0,719.6 L232.3,718.9 L230.6,718.2 L229.0,717.4 L227.4,716.5 L225.9,715.6 L224.4,714.5 L222.9,713.4 L221.5,712.3 L220.2,711.0 L219.0,709.7 L217.8,708.3 L216.8,706.9 L215.8,705.4 L214.9,703.8 L214.0,702.3 L213.3,700.6 L212.6,698.9 L212.0,697.2 L211.5,695.5 L211.1,693.7 L210.7,691.9 L210.5,690.1 L210.3,688.3 L210.2,686.5 L210.2,684.7 L210.3,682.8 L210.4,681.0 L210.7,679.2 L211.0,677.4 L211.4,675.7 L211.9,673.9 L212.5,672.2 L213.1,670.5 L213.8,668.9 L214.6,667.3 L215.5,665.8 L216.4,664.3 L217.4,662.9 L218.5,661.5 L219.7,660.2 L220.9,658.9 L222.2,657.8 L223.5,656.7 L224.9,655.7 L226.4,654.8 L228.0,653.9 L229.6,653.2 L231.2,652.5 L233.0,651.9 L234.7,651.4 L236.5,651.0 L238.3,650.7 L240.1,650.5 L242.0,650.4 L243.9,650.3 Z"/>
<path d="M245.8,649.5 L247.7,649.6 L249.6,649.8 L251.5,650.1 L253.3,650.6 L255.2,651.1 L257.0,651.6 L258.7,652.3 L260.4,653.1 L262.0,654.0 L263.5,654.9 L265.0,655.9 L266.3,657.1 L267.6,658.3 L268.7,659.6 L269.8,661.0 L270.7,662.4 L271.5,664.0 L272.1,665.7 L272.6,667.4 L273.0,669.2 L273.3,671.0 L273.5,672.9 L273.6,674.8 L273.7,676.7 L273.6,678.7 L273.5,680.6 L273.3,682.4 L273.1,684.3 L272.8,686.1 L272.6,687.9 L272.3,689.7 L272.2,691.5 L272.1,693.3 L272.1,695.1 L272.1,697.0 L272.1,698.8 L272.1,700.7 L271.9,702.5 L271.5,704.3 L271.0,706.0 L270.3,707.7 L269.4,709.3 L268.4,710.9 L267.3,712.4 L266.1,713.8 L264.8,715.2 L263.4,716.4 L261.9,717.5 L260.3,718.5 L258.7,719.4 L257.1,720.2 L255.4,720.8 L253.7,721.4 L251.9,721.8 L250.1,722.1 L248.3,722.3 L246.5,722.5 L244.7,722.5 L242.8,722.4 L241.0,722.2 L239.2,721.9 L237.3,721.5 L235.5,721.0 L233.8,720.5 L232.0,719.8 L230.3,719.1 L228.6,718.2 L227.0,717.3 L225.4,716.4 L223.8,715.3 L222.4,714.2 L221.0,712.9 L219.6,711.7 L218.4,710.3 L217.2,708.9 L216.1,707.4 L215.1,705.9 L214.1,704.3 L213.3,702.7 L212.5,701.0 L211.8,699.3 L211.2,697.5 L210.7,695.7 L210.3,693.9 L209.9,692.1 L209.7,690.2 L209.5,688.4 L209.4,686.5 L209.4,684.6 L209.5,682.8 L209.6,680.9 L209.9,679.1 L210.2,677.2 L210.6,675.4 L211.1,673.6 L211.7,671.9 L212.3,670.2 L213.1,668.5 L213.9,666.9 L214.7,665.3 L215.7,663.7 L216.7,662.3 L217.8,660.9 L219.0,659.5 L220.3,658.2 L221.6,657.0 L223.0,655.9 L224.4,654.9 L226.0,653.9 L227.5,653.1 L229.2,652.3 L230.9,651.6 L232.7,651.0 L234.4,650.5 L236.3,650.1 L238.1,649.8 L240.0,649.6 L241.9,649.5 L243.8,649.4 Z"/>
<path d="M245.8,648.8 L247.7,649.0 L249.7,649.2 L251.6,649.5 L253.5,650.0 L255.4,650.5 L257.2,651.1 L258.9,651.8 L260.7,652.5 L262.3,653.4 L263.8,654.4 L265.3,655.4 L266.7,656.6 L268.0,657.8 L269.1,659.1 L270.2,660.6 L271.1,662.1 L271.9,663.7 L272.5,665.4 L273.0,667.1 L273.4,669.0 L273.7,670.9 L273.8,672.8 L273.9,674.7 L273.9,676.7 L273.8,678.6 L273.6,680.5 L273.4,682.4 L273.2,684.3 L272.9,686.1 L272.6,687.9 L272.4,689.7 L272.3,691.5 L272.2,693.3 L272.2,695.2 L272.3,697.1 L272.4,698.9 L272.4,700.8 L272.2,702.7 L271.9,704.5 L271.3,706.3 L270.6,708.0 L269.8,709.7 L268.8,711.3 L267.7,712.8 L266.4,714.3 L265.1,715.7 L263.7,716.9 L262.2,718.1 L260.6,719.1 L259.0,720.0 L257.3,720.8 L255.6,721.5 L253.8,722.0 L252.0,722.5 L250.2,722.8 L248.4,723.0 L246.5,723.1 L244.7,723.1 L242.8,723.0 L240.9,722.8 L239.1,722.5 L237.2,722.1 L235.4,721.7 L233.6,721.1 L231.8,720.4 L230.0,719.7 L228.3,718.8 L226.7,717.9 L225.0,716.9 L223.5,715.8 L222.0,714.6 L220.6,713.4 L219.2,712.1 L217.9,710.7 L216.7,709.3 L215.6,707.8 L214.6,706.2 L213.6,704.6 L212.8,702.9 L212.0,701.2 L211.3,699.5 L210.7,697.7 L210.2,695.9 L209.7,694.1 L209.4,692.2 L209.1,690.3 L208.9,688.4 L208.8,686.5 L208.8,684.6 L208.9,682.7 L209.1,680.8 L209.3,679.0 L209.7,677.1 L210.1,675.3 L210.6,673.4 L211.1,671.7 L211.8,669.9 L212.5,668.2 L213.4,666.5 L214.2,664.9 L215.2,663.4 L216.3,661.9 L217.4,660.4 L218.6,659.1 L219.8,657.8 L221.2,656.5 L222.6,655.4 L224.1,654.3 L225.6,653.4 L227.2,652.5 L228.9,651.7 L230.7,651.0 L232.4,650.4 L234.3,649.9 L236.1,649.5 L238.0,649.2 L240.0,649.0 L241.9,648.8 L243.8,648.8 Z"/>
</g>
<path d="M440.1,578.8 L443.3,578.9 L446.5,579.0 L449.6,579.3 L452.7,579.8 L455.8,580.4 L458.8,581.2 L461.7,582.2 L464.6,583.4 L467.4,584.8 L470.1,586.5 L472.7,588.3 L475.2,590.3 L477.6,592.5 L479.8,594.9 L481.8,597.4 L483.6,600.0 L485.2,602.7 L486.5,605.6 L487.5,608.5 L488.3,611.5 L488.8,614.6 L489.2,617.7 L489.4,620.8 L489.5,624.0 L489.5,627.1 L489.5,630.3 L489.5,633.4 L489.6,636.6 L489.8,639.7 L490.2,642.8 L490.6,645.9 L491.0,649.0 L491.3,652.1 L491.5,655.2 L491.6,658.4 L491.5,661.5 L491.2,664.7 L490.6,667.8 L489.9,670.9 L489.0,674.0 L487.9,677.0 L486.6,679.9 L485.1,682.7 L483.5,685.3 L481.6,687.8 L479.6,690.2 L477.4,692.3 L475.1,694.3 L472.6,696.0 L469.9,697.6 L467.2,699.0 L464.3,700.1 L461.3,701.2 L458.2,702.0 L455.1,702.7 L451.9,703.2 L448.6,703.6 L445.4,703.8 L442.1,703.9 L438.8,703.8 L435.5,703.6 L432.3,703.3 L429.1,702.8 L425.9,702.2 L422.8,701.4 L419.8,700.5 L416.9,699.4 L414.1,698.1 L411.4,696.6 L408.8,694.9 L406.3,693.1 L403.9,691.2 L401.7,689.1 L399.6,686.8 L397.6,684.5 L395.7,682.0 L393.9,679.4 L392.2,676.8 L390.7,674.0 L389.3,671.2 L388.0,668.3 L386.9,665.3 L385.9,662.3 L385.0,659.2 L384.2,656.1 L383.6,652.9 L383.1,649.8 L382.8,646.6 L382.5,643.4 L382.5,640.3 L382.5,637.1 L382.7,633.9 L383.0,630.8 L383.5,627.7 L384.1,624.6 L384.8,621.5 L385.7,618.5 L386.7,615.5 L387.9,612.6 L389.2,609.8 L390.6,607.0 L392.2,604.3 L394.0,601.6 L395.8,599.1 L397.8,596.6 L400.0,594.3 L402.2,592.1 L404.6,590.1 L407.1,588.2 L409.7,586.4 L412.4,584.8 L415.2,583.4 L418.1,582.2 L421.1,581.3 L424.1,580.5 L427.3,579.8 L430.4,579.4 L433.6,579.1 L436.9,578.9 Z" fill="#84f684" stroke="#4f80d8" stroke-width="1.3"/>
<g fill="none" stroke="#3f96b0" stroke-width="0.50">
<circle cx="440.0" cy="640.6" r="8.9"/>
<circle cx="440.0" cy="640.6" r="20.7"/>
<path d="M440.0,612.8 L442.9,612.9 L445.7,613.4 L448.4,614.1 L451.0,615.0 L453.5,616.3 L455.9,617.8 L458.2,619.7 L460.3,621.7 L462.1,624.0 L463.6,626.4 L464.9,629.0 L466.0,631.9 L466.7,635.0 L467.2,638.4 L467.3,641.8 L467.0,645.1 L466.4,648.1 L465.5,651.0 L464.3,653.7 L462.9,656.2 L461.2,658.5 L459.4,660.6 L457.4,662.4 L455.3,664.0 L453.0,665.3 L450.5,666.4 L447.9,667.3 L445.2,668.0 L442.4,668.4 L439.5,668.5 L436.6,668.3 L433.8,667.8 L431.1,667.0 L428.5,666.0 L426.1,664.7 L423.9,663.2 L421.7,661.5 L419.7,659.5 L417.9,657.3 L416.3,654.9 L414.9,652.3 L413.8,649.4 L413.0,646.5 L412.5,643.5 L412.4,640.4 L412.6,637.4 L413.1,634.4 L413.9,631.6 L415.0,628.8 L416.3,626.2 L417.9,623.8 L419.8,621.6 L421.8,619.6 L424.0,617.8 L426.4,616.3 L428.9,615.1 L431.5,614.1 L434.3,613.4 L437.1,612.9 Z"/>
<path d="M440.0,606.6 L443.5,606.8 L447.0,607.3 L450.3,608.1 L453.5,609.3 L456.5,610.9 L459.5,612.8 L462.2,615.0 L464.7,617.6 L466.9,620.4 L468.6,623.3 L470.1,626.6 L471.3,630.1 L472.2,633.9 L472.7,638.0 L472.8,642.0 L472.5,646.0 L471.9,649.7 L470.9,653.2 L469.6,656.5 L467.9,659.6 L465.9,662.5 L463.7,665.0 L461.3,667.3 L458.7,669.3 L455.9,670.9 L452.9,672.3 L449.7,673.4 L446.4,674.2 L442.9,674.6 L439.4,674.7 L435.8,674.5 L432.4,673.9 L429.1,673.0 L426.0,671.7 L423.0,670.2 L420.2,668.3 L417.6,666.2 L415.2,663.7 L413.0,661.0 L411.1,658.0 L409.5,654.8 L408.1,651.4 L407.2,647.8 L406.6,644.1 L406.4,640.4 L406.6,636.7 L407.2,633.1 L408.2,629.6 L409.5,626.2 L411.1,623.1 L413.1,620.1 L415.3,617.4 L417.8,614.9 L420.5,612.8 L423.4,610.9 L426.4,609.4 L429.7,608.2 L433.0,607.3 L436.5,606.8 Z"/>
<path d="M440.0,601.7 L444.1,601.9 L448.0,602.5 L451.7,603.5 L455.4,604.8 L458.9,606.6 L462.3,608.8 L465.4,611.4 L468.2,614.4 L470.5,617.6 L472.5,621.0 L474.0,624.7 L475.2,628.8 L476.1,633.1 L476.6,637.6 L476.8,642.2 L476.6,646.6 L476.0,650.8 L475.0,654.8 L473.6,658.7 L471.7,662.2 L469.6,665.6 L467.2,668.5 L464.4,671.2 L461.5,673.5 L458.3,675.4 L454.8,677.0 L451.2,678.2 L447.3,679.1 L443.3,679.6 L439.3,679.7 L435.2,679.4 L431.3,678.7 L427.5,677.7 L423.9,676.2 L420.6,674.4 L417.4,672.3 L414.5,669.8 L411.7,667.0 L409.3,663.9 L407.1,660.4 L405.3,656.7 L403.8,652.8 L402.7,648.8 L402.1,644.6 L401.9,640.4 L402.1,636.2 L402.8,632.1 L403.8,628.1 L405.3,624.3 L407.1,620.7 L409.3,617.3 L411.8,614.1 L414.6,611.3 L417.7,608.8 L421.0,606.6 L424.5,604.9 L428.2,603.5 L432.0,602.5 L436.0,601.9 Z"/>
<path d="M440.1,597.6 L444.5,597.8 L448.8,598.4 L453.0,599.4 L457.1,600.9 L461.0,603.0 L464.6,605.4 L468.1,608.4 L471.1,611.7 L473.6,615.3 L475.6,619.1 L477.2,623.2 L478.4,627.7 L479.2,632.4 L479.7,637.4 L480.0,642.4 L479.8,647.2 L479.3,651.8 L478.4,656.2 L476.9,660.5 L475.0,664.5 L472.7,668.2 L470.1,671.6 L467.1,674.6 L463.9,677.1 L460.3,679.3 L456.5,681.1 L452.4,682.4 L448.1,683.4 L443.7,683.9 L439.2,684.0 L434.7,683.7 L430.3,682.9 L426.1,681.7 L422.2,680.1 L418.4,678.1 L415.0,675.7 L411.7,672.9 L408.8,669.8 L406.1,666.3 L403.7,662.5 L401.7,658.4 L400.2,654.1 L399.0,649.6 L398.3,645.0 L398.1,640.4 L398.3,635.8 L399.0,631.2 L400.2,626.8 L401.7,622.6 L403.7,618.6 L406.1,614.8 L408.9,611.3 L411.9,608.2 L415.3,605.4 L418.9,603.0 L422.8,601.0 L426.9,599.5 L431.2,598.4 L435.6,597.8 Z"/>
<path d="M440.1,594.0 L444.9,594.2 L449.6,594.8 L454.1,595.9 L458.5,597.6 L462.7,599.8 L466.7,602.5 L470.3,605.7 L473.6,609.4 L476.2,613.3 L478.3,617.5 L479.8,622.0 L480.9,626.8 L481.7,631.9 L482.2,637.2 L482.4,642.5 L482.4,647.6 L482.0,652.5 L481.1,657.3 L479.7,662.0 L477.8,666.4 L475.4,670.5 L472.6,674.2 L469.5,677.5 L466.0,680.3 L462.1,682.7 L457.9,684.6 L453.5,686.1 L448.8,687.1 L444.0,687.6 L439.1,687.7 L434.2,687.4 L429.5,686.6 L424.9,685.3 L420.6,683.5 L416.6,681.3 L412.9,678.7 L409.4,675.6 L406.2,672.2 L403.4,668.4 L400.9,664.2 L398.8,659.8 L397.1,655.1 L395.9,650.3 L395.1,645.3 L394.9,640.3 L395.1,635.4 L395.9,630.5 L397.1,625.8 L398.7,621.2 L400.9,616.8 L403.4,612.8 L406.3,609.0 L409.6,605.5 L413.3,602.4 L417.2,599.8 L421.4,597.6 L425.8,596.0 L430.4,594.9 L435.2,594.2 Z"/>
<path d="M440.1,591.2 L442.6,591.2 L445.2,591.4 L447.7,591.6 L450.2,592.0 L452.6,592.6 L455.0,593.2 L457.3,594.0 L459.6,595.0 L461.9,596.1 L464.1,597.3 L466.2,598.7 L468.3,600.2 L470.3,601.9 L472.1,603.7 L473.9,605.6 L475.5,607.6 L476.9,609.7 L478.2,611.8 L479.3,614.0 L480.3,616.3 L481.1,618.7 L481.8,621.1 L482.3,623.6 L482.8,626.2 L483.2,628.9 L483.5,631.5 L483.7,634.3 L483.9,637.0 L484.1,639.8 L484.2,642.6 L484.3,645.3 L484.3,647.9 L484.2,650.5 L484.0,653.1 L483.7,655.7 L483.2,658.2 L482.6,660.7 L481.9,663.1 L481.0,665.5 L479.9,667.8 L478.8,670.1 L477.5,672.2 L476.1,674.3 L474.7,676.3 L473.1,678.1 L471.3,679.8 L469.5,681.4 L467.6,682.9 L465.6,684.2 L463.5,685.4 L461.4,686.5 L459.1,687.4 L456.8,688.3 L454.4,689.0 L451.9,689.6 L449.4,690.0 L446.8,690.4 L444.3,690.6 L441.7,690.7 L439.1,690.7 L436.5,690.6 L433.9,690.3 L431.3,689.9 L428.8,689.4 L426.4,688.8 L424.0,688.1 L421.7,687.2 L419.4,686.2 L417.3,685.1 L415.2,683.8 L413.1,682.5 L411.2,681.0 L409.3,679.4 L407.6,677.7 L405.8,675.9 L404.2,674.0 L402.7,672.0 L401.2,670.0 L399.9,667.8 L398.6,665.5 L397.5,663.2 L396.5,660.8 L395.5,658.4 L394.7,655.9 L394.0,653.4 L393.5,650.8 L393.0,648.2 L392.7,645.6 L392.5,643.0 L392.4,640.3 L392.5,637.7 L392.7,635.1 L393.0,632.5 L393.5,629.9 L394.0,627.4 L394.7,624.9 L395.5,622.5 L396.4,620.1 L397.5,617.8 L398.6,615.5 L399.9,613.3 L401.3,611.1 L402.8,609.1 L404.3,607.1 L406.0,605.2 L407.8,603.4 L409.7,601.7 L411.6,600.1 L413.7,598.7 L415.8,597.3 L418.0,596.1 L420.2,595.0 L422.5,594.1 L424.9,593.3 L427.3,592.6 L429.8,592.1 L432.4,591.7 L434.9,591.4 L437.5,591.2 Z"/>
<path d="M440.1,588.5 L442.8,588.6 L445.4,588.7 L448.1,589.0 L450.7,589.4 L453.3,590.0 L455.8,590.7 L458.3,591.5 L460.7,592.5 L463.1,593.7 L465.4,595.0 L467.6,596.5 L469.8,598.1 L471.8,599.9 L473.8,601.8 L475.6,603.8 L477.3,605.9 L478.7,608.1 L480.0,610.4 L481.1,612.8 L482.1,615.2 L482.9,617.7 L483.5,620.3 L484.0,623.0 L484.4,625.7 L484.7,628.4 L485.0,631.2 L485.2,634.1 L485.4,636.9 L485.6,639.8 L485.7,642.6 L485.9,645.4 L485.9,648.2 L485.9,650.9 L485.8,653.6 L485.5,656.3 L485.1,658.9 L484.5,661.6 L483.8,664.2 L482.9,666.7 L481.9,669.2 L480.8,671.6 L479.5,673.9 L478.1,676.1 L476.5,678.2 L474.9,680.1 L473.1,682.0 L471.2,683.7 L469.2,685.3 L467.1,686.7 L464.9,687.9 L462.6,689.1 L460.2,690.1 L457.7,691.0 L455.2,691.7 L452.6,692.3 L449.9,692.8 L447.2,693.1 L444.5,693.4 L441.7,693.5 L439.0,693.5 L436.3,693.3 L433.5,693.0 L430.9,692.6 L428.2,692.1 L425.6,691.5 L423.1,690.7 L420.7,689.8 L418.3,688.7 L416.0,687.5 L413.8,686.2 L411.7,684.7 L409.7,683.1 L407.7,681.5 L405.8,679.7 L404.1,677.7 L402.4,675.7 L400.8,673.6 L399.3,671.4 L397.9,669.1 L396.6,666.8 L395.4,664.3 L394.4,661.8 L393.4,659.2 L392.6,656.6 L391.9,654.0 L391.3,651.3 L390.8,648.5 L390.5,645.8 L390.3,643.1 L390.2,640.3 L390.3,637.6 L390.5,634.8 L390.8,632.1 L391.3,629.4 L391.8,626.8 L392.5,624.2 L393.4,621.6 L394.3,619.1 L395.4,616.6 L396.6,614.2 L397.9,611.9 L399.3,609.7 L400.9,607.5 L402.5,605.4 L404.3,603.4 L406.1,601.5 L408.1,599.7 L410.1,598.0 L412.3,596.4 L414.5,595.0 L416.8,593.7 L419.1,592.6 L421.6,591.6 L424.1,590.7 L426.7,590.0 L429.3,589.5 L431.9,589.1 L434.6,588.8 L437.3,588.6 Z"/>
<path d="M440.1,586.6 L442.9,586.7 L445.6,586.8 L448.4,587.1 L451.1,587.5 L453.8,588.1 L456.4,588.8 L458.9,589.7 L461.5,590.7 L463.9,591.9 L466.3,593.3 L468.6,594.9 L470.8,596.6 L473.0,598.4 L475.0,600.4 L476.8,602.5 L478.5,604.7 L480.0,607.1 L481.3,609.5 L482.4,611.9 L483.3,614.5 L484.1,617.1 L484.7,619.8 L485.2,622.5 L485.5,625.3 L485.8,628.1 L486.0,631.0 L486.2,633.9 L486.4,636.8 L486.6,639.8 L486.8,642.7 L486.9,645.5 L487.1,648.4 L487.1,651.2 L487.0,654.0 L486.8,656.7 L486.4,659.5 L485.9,662.2 L485.2,664.9 L484.3,667.6 L483.3,670.1 L482.2,672.6 L480.9,675.1 L479.4,677.4 L477.9,679.6 L476.2,681.6 L474.4,683.6 L472.4,685.4 L470.3,687.0 L468.1,688.5 L465.9,689.8 L463.5,691.0 L461.0,692.0 L458.4,692.9 L455.8,693.7 L453.1,694.3 L450.3,694.8 L447.5,695.2 L444.7,695.4 L441.8,695.5 L439.0,695.5 L436.1,695.3 L433.3,695.0 L430.5,694.6 L427.8,694.1 L425.1,693.4 L422.5,692.6 L419.9,691.6 L417.5,690.5 L415.1,689.3 L412.8,687.9 L410.6,686.4 L408.5,684.7 L406.5,683.0 L404.6,681.1 L402.8,679.1 L401.1,677.0 L399.4,674.8 L397.9,672.5 L396.5,670.1 L395.2,667.7 L393.9,665.1 L392.9,662.5 L391.9,659.9 L391.0,657.1 L390.3,654.4 L389.7,651.6 L389.3,648.8 L388.9,646.0 L388.7,643.1 L388.6,640.3 L388.7,637.5 L388.9,634.7 L389.2,631.9 L389.7,629.1 L390.3,626.3 L391.0,623.6 L391.8,621.0 L392.8,618.4 L393.9,615.8 L395.1,613.3 L396.4,610.9 L397.9,608.6 L399.5,606.3 L401.2,604.1 L403.0,602.0 L404.9,600.1 L406.9,598.2 L409.0,596.4 L411.3,594.8 L413.5,593.3 L415.9,592.0 L418.4,590.8 L420.9,589.7 L423.5,588.9 L426.2,588.2 L428.9,587.6 L431.7,587.2 L434.4,586.9 L437.3,586.7 Z"/>
<path d="M440.1,585.0 L442.9,585.0 L445.8,585.2 L448.6,585.5 L451.4,585.9 L454.2,586.5 L456.9,587.2 L459.5,588.1 L462.1,589.2 L464.7,590.4 L467.1,591.9 L469.5,593.5 L471.8,595.3 L473.9,597.2 L476.0,599.2 L477.9,601.4 L479.6,603.7 L481.1,606.1 L482.4,608.6 L483.5,611.2 L484.4,613.8 L485.1,616.5 L485.7,619.3 L486.1,622.1 L486.5,625.0 L486.7,627.9 L486.8,630.8 L487.0,633.8 L487.1,636.8 L487.4,639.8 L487.6,642.7 L487.8,645.6 L488.0,648.5 L488.1,651.4 L488.0,654.3 L487.9,657.1 L487.6,659.9 L487.1,662.8 L486.4,665.5 L485.5,668.3 L484.6,671.0 L483.4,673.6 L482.1,676.1 L480.7,678.5 L479.1,680.8 L477.3,682.9 L475.5,685.0 L473.5,686.8 L471.3,688.5 L469.1,690.1 L466.7,691.4 L464.2,692.7 L461.7,693.7 L459.0,694.7 L456.3,695.4 L453.5,696.1 L450.6,696.6 L447.7,696.9 L444.8,697.2 L441.9,697.3 L438.9,697.2 L436.0,697.1 L433.1,696.8 L430.2,696.4 L427.4,695.8 L424.6,695.1 L421.9,694.2 L419.3,693.2 L416.8,692.1 L414.3,690.8 L412.0,689.4 L409.7,687.8 L407.6,686.1 L405.5,684.2 L403.5,682.3 L401.7,680.2 L399.9,678.1 L398.2,675.8 L396.7,673.4 L395.2,671.0 L393.9,668.4 L392.7,665.8 L391.6,663.1 L390.6,660.4 L389.7,657.6 L389.0,654.8 L388.4,651.9 L387.9,649.0 L387.6,646.1 L387.4,643.2 L387.3,640.3 L387.4,637.4 L387.5,634.5 L387.9,631.6 L388.3,628.8 L388.9,626.0 L389.6,623.2 L390.5,620.4 L391.5,617.8 L392.6,615.1 L393.8,612.6 L395.2,610.1 L396.7,607.7 L398.3,605.3 L400.0,603.1 L401.9,600.9 L403.9,598.8 L405.9,596.9 L408.1,595.1 L410.4,593.4 L412.7,591.9 L415.2,590.5 L417.7,589.2 L420.3,588.2 L423.0,587.3 L425.7,586.5 L428.5,585.9 L431.4,585.5 L434.3,585.2 L437.2,585.0 Z"/>
<path d="M440.1,583.7 L443.0,583.7 L445.9,583.9 L448.8,584.2 L451.7,584.6 L454.5,585.2 L457.3,585.9 L460.0,586.8 L462.7,587.9 L465.3,589.2 L467.8,590.7 L470.2,592.4 L472.5,594.2 L474.7,596.2 L476.8,598.3 L478.7,600.6 L480.5,602.9 L482.0,605.4 L483.3,607.9 L484.4,610.6 L485.3,613.3 L486.0,616.1 L486.5,618.9 L486.9,621.8 L487.2,624.8 L487.3,627.7 L487.5,630.7 L487.6,633.7 L487.7,636.7 L488.0,639.7 L488.2,642.7 L488.5,645.7 L488.7,648.6 L488.8,651.6 L488.8,654.5 L488.7,657.4 L488.4,660.3 L488.0,663.2 L487.3,666.0 L486.5,668.9 L485.5,671.6 L484.4,674.3 L483.1,676.9 L481.6,679.4 L480.0,681.8 L478.2,684.0 L476.3,686.1 L474.3,688.0 L472.1,689.7 L469.8,691.3 L467.4,692.7 L464.9,694.0 L462.2,695.1 L459.5,696.0 L456.7,696.8 L453.8,697.5 L450.9,698.0 L447.9,698.3 L444.9,698.6 L441.9,698.7 L438.9,698.6 L435.9,698.5 L432.9,698.2 L430.0,697.7 L427.1,697.2 L424.2,696.4 L421.5,695.6 L418.8,694.5 L416.2,693.4 L413.7,692.0 L411.3,690.5 L409.0,688.9 L406.8,687.2 L404.7,685.3 L402.7,683.3 L400.8,681.1 L399.0,678.9 L397.3,676.6 L395.7,674.1 L394.3,671.6 L392.9,669.0 L391.7,666.3 L390.6,663.6 L389.6,660.8 L388.7,657.9 L388.0,655.0 L387.3,652.1 L386.9,649.2 L386.5,646.2 L386.3,643.3 L386.2,640.3 L386.3,637.3 L386.5,634.4 L386.8,631.4 L387.3,628.5 L387.9,625.7 L388.6,622.8 L389.5,620.0 L390.4,617.3 L391.6,614.6 L392.8,612.0 L394.2,609.4 L395.7,606.9 L397.4,604.5 L399.1,602.2 L401.0,600.0 L403.0,597.9 L405.1,595.9 L407.4,594.0 L409.7,592.3 L412.1,590.7 L414.6,589.3 L417.2,588.0 L419.8,586.9 L422.6,586.0 L425.4,585.2 L428.3,584.6 L431.2,584.2 L434.1,583.9 L437.1,583.7 Z"/>
<path d="M440.1,582.6 L443.1,582.6 L446.1,582.8 L449.0,583.1 L451.9,583.5 L454.8,584.1 L457.6,584.8 L460.4,585.8 L463.1,586.9 L465.8,588.2 L468.3,589.7 L470.8,591.4 L473.1,593.3 L475.4,595.3 L477.5,597.5 L479.5,599.8 L481.2,602.2 L482.8,604.8 L484.1,607.4 L485.1,610.1 L486.0,612.9 L486.6,615.7 L487.1,618.6 L487.5,621.6 L487.7,624.6 L487.9,627.6 L488.0,630.6 L488.0,633.7 L488.2,636.7 L488.4,639.7 L488.7,642.8 L489.0,645.8 L489.2,648.7 L489.4,651.7 L489.5,654.7 L489.4,657.6 L489.1,660.6 L488.7,663.5 L488.1,666.5 L487.3,669.4 L486.3,672.2 L485.2,674.9 L483.9,677.6 L482.4,680.1 L480.8,682.6 L479.0,684.9 L477.1,687.0 L475.0,689.0 L472.8,690.8 L470.4,692.4 L468.0,693.8 L465.4,695.1 L462.7,696.2 L459.9,697.2 L457.0,698.0 L454.1,698.7 L451.1,699.2 L448.1,699.5 L445.0,699.8 L442.0,699.9 L438.9,699.8 L435.8,699.6 L432.8,699.3 L429.8,698.9 L426.8,698.3 L423.9,697.6 L421.1,696.7 L418.4,695.6 L415.7,694.4 L413.2,693.1 L410.7,691.6 L408.4,689.9 L406.1,688.1 L404.0,686.1 L402.0,684.1 L400.0,681.9 L398.2,679.6 L396.5,677.2 L394.9,674.7 L393.4,672.2 L392.1,669.5 L390.8,666.8 L389.7,664.0 L388.7,661.1 L387.8,658.2 L387.1,655.3 L386.5,652.3 L386.0,649.3 L385.6,646.3 L385.4,643.3 L385.4,640.3 L385.4,637.3 L385.6,634.3 L385.9,631.3 L386.4,628.3 L387.0,625.4 L387.7,622.5 L388.6,619.7 L389.6,616.9 L390.7,614.1 L392.0,611.5 L393.4,608.8 L394.9,606.3 L396.6,603.9 L398.4,601.5 L400.3,599.2 L402.3,597.1 L404.5,595.0 L406.7,593.1 L409.1,591.3 L411.5,589.7 L414.1,588.2 L416.7,587.0 L419.4,585.8 L422.2,584.9 L425.1,584.1 L428.0,583.5 L431.0,583.1 L434.0,582.8 L437.0,582.6 Z"/>
<path d="M440.1,581.7 L443.1,581.7 L446.2,581.9 L449.2,582.2 L452.1,582.6 L455.0,583.2 L457.9,583.9 L460.7,584.9 L463.5,586.0 L466.2,587.4 L468.8,588.9 L471.3,590.7 L473.6,592.6 L475.9,594.7 L478.1,596.9 L480.0,599.2 L481.8,601.7 L483.3,604.3 L484.6,607.0 L485.7,609.7 L486.5,612.5 L487.2,615.4 L487.6,618.4 L488.0,621.4 L488.2,624.4 L488.3,627.5 L488.3,630.5 L488.4,633.6 L488.6,636.7 L488.8,639.7 L489.1,642.8 L489.4,645.8 L489.7,648.8 L489.9,651.8 L490.0,654.8 L489.9,657.8 L489.7,660.8 L489.3,663.8 L488.7,666.8 L487.9,669.7 L487.0,672.6 L485.8,675.4 L484.5,678.1 L483.1,680.8 L481.4,683.2 L479.6,685.6 L477.7,687.8 L475.6,689.8 L473.3,691.6 L471.0,693.3 L468.4,694.7 L465.8,696.0 L463.1,697.2 L460.2,698.1 L457.3,699.0 L454.3,699.6 L451.3,700.1 L448.2,700.5 L445.1,700.7 L442.0,700.8 L438.9,700.8 L435.7,700.6 L432.7,700.3 L429.6,699.8 L426.6,699.3 L423.7,698.5 L420.8,697.6 L418.0,696.5 L415.3,695.3 L412.7,693.9 L410.3,692.4 L407.9,690.7 L405.6,688.8 L403.4,686.9 L401.4,684.8 L399.4,682.5 L397.6,680.2 L395.9,677.8 L394.3,675.2 L392.8,672.6 L391.4,669.9 L390.1,667.1 L389.0,664.3 L388.0,661.4 L387.1,658.5 L386.4,655.5 L385.8,652.5 L385.3,649.4 L384.9,646.4 L384.7,643.3 L384.6,640.3 L384.7,637.2 L384.9,634.2 L385.2,631.2 L385.7,628.2 L386.3,625.2 L387.0,622.3 L387.9,619.4 L388.9,616.5 L390.0,613.8 L391.3,611.0 L392.7,608.4 L394.3,605.8 L395.9,603.3 L397.8,600.9 L399.7,598.6 L401.8,596.4 L403.9,594.3 L406.2,592.4 L408.6,590.6 L411.1,588.9 L413.7,587.4 L416.3,586.1 L419.1,585.0 L422.0,584.0 L424.9,583.3 L427.9,582.7 L430.9,582.2 L433.9,581.9 L437.0,581.7 Z"/>
<path d="M440.1,580.9 L443.2,580.9 L446.2,581.1 L449.3,581.4 L452.3,581.8 L455.2,582.4 L458.1,583.2 L461.0,584.2 L463.8,585.3 L466.5,586.7 L469.1,588.3 L471.7,590.0 L474.1,592.0 L476.4,594.1 L478.5,596.3 L480.5,598.7 L482.3,601.2 L483.8,603.9 L485.1,606.6 L486.2,609.4 L487.0,612.3 L487.6,615.2 L488.1,618.2 L488.4,621.2 L488.5,624.3 L488.6,627.4 L488.7,630.5 L488.7,633.6 L488.8,636.6 L489.1,639.7 L489.4,642.8 L489.7,645.8 L490.0,648.9 L490.3,651.9 L490.4,654.9 L490.4,658.0 L490.2,661.0 L489.8,664.1 L489.2,667.1 L488.5,670.1 L487.5,673.0 L486.4,675.8 L485.1,678.6 L483.6,681.3 L482.0,683.8 L480.2,686.2 L478.2,688.4 L476.1,690.5 L473.8,692.3 L471.4,694.0 L468.8,695.5 L466.2,696.8 L463.4,698.0 L460.5,698.9 L457.6,699.8 L454.5,700.4 L451.5,701.0 L448.3,701.3 L445.2,701.5 L442.0,701.6 L438.8,701.6 L435.7,701.4 L432.6,701.1 L429.5,700.6 L426.4,700.0 L423.4,699.3 L420.5,698.4 L417.7,697.3 L415.0,696.0 L412.4,694.6 L409.9,693.0 L407.5,691.3 L405.2,689.5 L403.0,687.4 L400.9,685.3 L398.9,683.1 L397.1,680.7 L395.3,678.2 L393.7,675.6 L392.2,673.0 L390.8,670.3 L389.6,667.4 L388.4,664.6 L387.4,661.6 L386.6,658.7 L385.8,655.6 L385.2,652.6 L384.7,649.5 L384.4,646.5 L384.1,643.4 L384.1,640.3 L384.1,637.2 L384.3,634.1 L384.6,631.1 L385.1,628.0 L385.7,625.0 L386.4,622.1 L387.3,619.1 L388.3,616.3 L389.5,613.5 L390.7,610.7 L392.2,608.0 L393.7,605.4 L395.4,602.9 L397.2,600.4 L399.2,598.1 L401.3,595.8 L403.5,593.7 L405.8,591.8 L408.2,589.9 L410.7,588.2 L413.3,586.7 L416.0,585.4 L418.8,584.2 L421.7,583.3 L424.7,582.5 L427.7,581.9 L430.8,581.5 L433.9,581.1 L437.0,581.0 Z"/>
<path d="M440.1,580.3 L443.2,580.3 L446.3,580.5 L449.4,580.8 L452.4,581.2 L455.4,581.8 L458.3,582.6 L461.2,583.6 L464.0,584.8 L466.8,586.1 L469.4,587.7 L472.0,589.5 L474.4,591.5 L476.7,593.6 L478.9,595.9 L480.9,598.3 L482.7,600.9 L484.2,603.5 L485.5,606.3 L486.6,609.1 L487.4,612.0 L488.0,615.0 L488.4,618.0 L488.7,621.1 L488.8,624.2 L488.9,627.3 L488.9,630.4 L488.9,633.5 L489.1,636.6 L489.3,639.7 L489.6,642.8 L490.0,645.9 L490.3,648.9 L490.6,652.0 L490.7,655.0 L490.8,658.1 L490.6,661.2 L490.2,664.2 L489.6,667.3 L488.9,670.3 L488.0,673.3 L486.8,676.2 L485.5,679.0 L484.1,681.7 L482.4,684.2 L480.6,686.7 L478.6,688.9 L476.5,691.0 L474.2,692.9 L471.7,694.6 L469.2,696.1 L466.5,697.4 L463.6,698.6 L460.7,699.6 L457.8,700.4 L454.7,701.1 L451.6,701.6 L448.4,702.0 L445.2,702.2 L442.0,702.3 L438.8,702.2 L435.6,702.1 L432.5,701.7 L429.3,701.3 L426.3,700.7 L423.3,699.9 L420.3,699.0 L417.5,697.9 L414.7,696.6 L412.1,695.2 L409.5,693.6 L407.1,691.8 L404.8,690.0 L402.6,687.9 L400.5,685.8 L398.5,683.5 L396.7,681.1 L394.9,678.6 L393.3,676.0 L391.8,673.3 L390.4,670.5 L389.1,667.7 L388.0,664.8 L387.0,661.8 L386.1,658.8 L385.3,655.8 L384.7,652.7 L384.2,649.6 L383.9,646.5 L383.7,643.4 L383.6,640.3 L383.6,637.2 L383.8,634.1 L384.2,631.0 L384.6,627.9 L385.2,624.9 L386.0,621.9 L386.8,619.0 L387.8,616.1 L389.0,613.2 L390.3,610.4 L391.7,607.7 L393.3,605.1 L395.0,602.5 L396.8,600.0 L398.8,597.7 L400.9,595.4 L403.1,593.3 L405.4,591.3 L407.9,589.4 L410.4,587.7 L413.0,586.2 L415.8,584.8 L418.6,583.7 L421.5,582.7 L424.5,581.9 L427.6,581.3 L430.7,580.8 L433.8,580.5 L436.9,580.4 Z"/>
<path d="M440.1,579.8 L443.2,579.8 L446.4,580.0 L449.5,580.3 L452.5,580.7 L455.5,581.3 L458.5,582.1 L461.4,583.1 L464.2,584.2 L467.0,585.7 L469.7,587.3 L472.3,589.1 L474.7,591.1 L477.0,593.2 L479.2,595.5 L481.2,598.0 L483.0,600.6 L484.6,603.2 L485.9,606.0 L486.9,608.9 L487.7,611.8 L488.3,614.8 L488.7,617.9 L489.0,621.0 L489.1,624.1 L489.1,627.2 L489.1,630.4 L489.1,633.5 L489.3,636.6 L489.5,639.7 L489.8,642.8 L490.2,645.9 L490.6,649.0 L490.8,652.0 L491.0,655.1 L491.1,658.2 L490.9,661.3 L490.6,664.4 L490.0,667.5 L489.3,670.6 L488.3,673.6 L487.2,676.5 L485.9,679.3 L484.5,682.0 L482.8,684.6 L481.0,687.1 L479.0,689.4 L476.8,691.5 L474.5,693.4 L472.0,695.1 L469.4,696.6 L466.7,698.0 L463.9,699.2 L460.9,700.2 L457.9,701.0 L454.8,701.7 L451.7,702.2 L448.5,702.6 L445.3,702.8 L442.1,702.9 L438.8,702.8 L435.6,702.6 L432.4,702.3 L429.2,701.9 L426.1,701.2 L423.1,700.5 L420.1,699.5 L417.3,698.4 L414.5,697.2 L411.8,695.7 L409.3,694.1 L406.8,692.3 L404.5,690.4 L402.3,688.3 L400.2,686.2 L398.2,683.8 L396.3,681.4 L394.5,678.9 L392.9,676.3 L391.4,673.6 L390.0,670.8 L388.7,667.9 L387.6,665.0 L386.6,662.0 L385.7,659.0 L384.9,655.9 L384.3,652.8 L383.8,649.7 L383.5,646.5 L383.3,643.4 L383.2,640.3 L383.2,637.1 L383.4,634.0 L383.7,630.9 L384.2,627.8 L384.8,624.8 L385.5,621.8 L386.4,618.8 L387.4,615.9 L388.6,613.0 L389.9,610.2 L391.3,607.4 L392.9,604.8 L394.6,602.2 L396.5,599.7 L398.4,597.3 L400.5,595.0 L402.8,592.8 L405.1,590.8 L407.6,588.9 L410.1,587.2 L412.8,585.7 L415.6,584.3 L418.4,583.1 L421.4,582.2 L424.4,581.4 L427.5,580.8 L430.6,580.3 L433.7,580.0 L436.9,579.8 Z"/>
<path d="M440.1,579.3 L443.3,579.3 L446.4,579.5 L449.5,579.8 L452.6,580.2 L455.7,580.8 L458.6,581.6 L461.6,582.6 L464.4,583.8 L467.2,585.2 L469.9,586.9 L472.5,588.7 L475.0,590.7 L477.3,592.9 L479.5,595.2 L481.5,597.7 L483.3,600.3 L484.9,603.0 L486.2,605.8 L487.2,608.7 L488.0,611.7 L488.6,614.7 L488.9,617.8 L489.2,620.9 L489.3,624.0 L489.3,627.2 L489.3,630.3 L489.3,633.5 L489.4,636.6 L489.7,639.7 L490.0,642.8 L490.4,645.9 L490.8,649.0 L491.1,652.1 L491.3,655.2 L491.3,658.3 L491.2,661.4 L490.9,664.6 L490.3,667.7 L489.6,670.7 L488.7,673.8 L487.6,676.7 L486.3,679.6 L484.8,682.4 L483.1,685.0 L481.3,687.5 L479.3,689.8 L477.1,691.9 L474.8,693.8 L472.3,695.6 L469.7,697.1 L466.9,698.5 L464.1,699.7 L461.1,700.7 L458.1,701.5 L455.0,702.2 L451.8,702.7 L448.6,703.1 L445.3,703.3 L442.1,703.4 L438.8,703.3 L435.6,703.1 L432.3,702.8 L429.2,702.3 L426.0,701.7 L423.0,700.9 L420.0,700.0 L417.1,698.9 L414.3,697.6 L411.6,696.1 L409.0,694.5 L406.6,692.7 L404.2,690.8 L402.0,688.7 L399.9,686.5 L397.9,684.2 L396.0,681.7 L394.2,679.2 L392.6,676.5 L391.1,673.8 L389.7,671.0 L388.4,668.1 L387.2,665.1 L386.2,662.1 L385.3,659.1 L384.6,656.0 L384.0,652.9 L383.5,649.7 L383.1,646.6 L382.9,643.4 L382.8,640.3 L382.9,637.1 L383.1,634.0 L383.4,630.8 L383.8,627.7 L384.4,624.7 L385.2,621.6 L386.1,618.6 L387.1,615.7 L388.2,612.8 L389.5,610.0 L391.0,607.2 L392.6,604.5 L394.3,601.9 L396.1,599.4 L398.1,597.0 L400.3,594.7 L402.5,592.5 L404.9,590.4 L407.3,588.6 L409.9,586.8 L412.6,585.3 L415.4,583.9 L418.3,582.7 L421.2,581.7 L424.3,580.9 L427.4,580.3 L430.5,579.9 L433.7,579.5 L436.9,579.4 Z"/>
</g>
</g>
<g id="minimol">
<rect x="247.1" y="456" width="19.5" height="16.3" fill="none" stroke="#333" stroke-width="0.8"/>
<path d="M250.4,460.6 L253.4,466.2" stroke="#f07820" stroke-width="2.1" fill="none" stroke-linecap="round"/><path d="M253.4,466.2 L257.6,467.4" stroke="#1f5fa8" stroke-width="1.9"/><path d="M257.6,467.4 L262,469.2" stroke="#8a8a8a" stroke-width="1.6"/>
<path d="M424.4,456.8 L427.4,462" stroke="#f07820" stroke-width="2.1" fill="none" stroke-linecap="round"/><path d="M427.4,462 L431.4,463" stroke="#1f5fa8" stroke-width="1.9"/><path d="M431.4,463 L435.8,464.6" stroke="#7a6a6a" stroke-width="1.4"/>
<rect x="271.5" y="683.3" width="16.2" height="10.8" fill="none" stroke="#444" stroke-width="0.8"/>
<path d="M273,687.8 L277.3,687.8" stroke="#f07820" stroke-width="1.5"/><path d="M277.3,687.8 L281.8,687.8" stroke="#1f5fa8" stroke-width="1.5"/><path d="M281.8,687.8 L287,687.8" stroke="#909090" stroke-width="1.2"/>
<path d="M488.5,639 L493,639" stroke="#f07820" stroke-width="1.5"/><path d="M493,639 L497,639" stroke="#1f5fa8" stroke-width="1.5"/><path d="M497,639 L502.7,639" stroke="#808080" stroke-width="1.1"/>
</g>
<g id="arrows" stroke="#111" stroke-width="1.1" fill="#111">
<line x1="253" y1="472.3" x2="265" y2="496.4"/><path d="M266.4,499.2 L261.6,494.6 L266.2,492.3 Z" stroke="none"/>
<line x1="284.8" y1="683" x2="293.7" y2="647.8"/><path d="M294.6,644.4 L295.9,650.9 L290.9,649.6 Z" stroke="none"/>
</g>
<rect x="255.7" y="499.4" width="61" height="75" fill="#fff" stroke="#555" stroke-width="0.9"/>
<rect x="249.3" y="606.4" width="101.4" height="36.8" fill="#fff" stroke="#555" stroke-width="0.9"/>
<line x1="271.0" y1="511.0" x2="280.0" y2="556.9" stroke="#333" stroke-width="0.8"/>
<line x1="280.0" y1="556.7" x2="308.4" y2="556.4" stroke="#111" stroke-width="2.2"/>
<ellipse cx="271.0" cy="511.0" rx="10.0" ry="9.0" fill="url(#gRb2)" stroke="#222" stroke-width="0.6"/>
<ellipse cx="280.0" cy="556.9" rx="7.7" ry="7.0" fill="#6f9fd6" stroke="#111" stroke-width="0.8"/>
<circle cx="308.4" cy="556.4" r="5.4" fill="#808080" stroke="#333" stroke-width="0.6"/>
<text x="280.2" y="537" font-size="16.5">R<tspan font-size="11" dy="3">opt</tspan></text>
<line x1="273.2" y1="629.2" x2="311.0" y2="629.2" stroke="#777" stroke-width="1.0"/>
<line x1="311.0" y1="629.3" x2="339.5" y2="629.3" stroke="#111" stroke-width="2.2"/>
<ellipse cx="273.2" cy="629.1" rx="10.2" ry="9.0" fill="url(#gRb2)" stroke="#222" stroke-width="0.6"/>
<ellipse cx="311.0" cy="629.3" rx="7.9" ry="7.0" fill="#6f9fd6" stroke="#111" stroke-width="0.8"/>
<circle cx="339.5" cy="629.3" r="5.4" fill="#808080" stroke="#333" stroke-width="0.6"/>
<text x="277.6" y="620.8" font-size="16.5">R<tspan font-size="11" dy="3">opt</tspan></text>
<g id="mol80">
<path d="M122.2,507.4 C122.2,494.7 132.4,489.0 144.8,489.0 C157.2,489.0 167.4,494.7 167.4,507.4 C167.4,516.0 156.1,520.8 144.8,520.8 C133.5,520.8 122.2,516.0 122.2,507.4 Z" fill="url(#gOr)" stroke="#f0853a" stroke-width="0.8"/>
<path d="M122.2,537.3 C122.2,549.9 132.4,555.6 144.8,555.6 C157.2,555.6 167.4,549.9 167.4,537.3 C167.4,528.7 156.1,524.0 144.8,524.0 C133.5,524.0 122.2,528.7 122.2,537.3 Z" fill="url(#gGr)" stroke="#5fb4c8" stroke-width="0.8"/>
<line x1="104.5" y1="523.5" x2="143.0" y2="523.5" stroke="#222" stroke-width="0.9"/>
<line x1="130.8" y1="465.8" x2="143.4" y2="523.6" stroke="#222" stroke-width="0.8"/>
<path d="M112.4,523.5 A31,31 0 0 1 137.2,502.2" fill="none" stroke="#222" stroke-width="0.9"/>
<line x1="143.4" y1="523.6" x2="172.0" y2="523.3" stroke="#111" stroke-width="2.2"/>
<ellipse cx="130.8" cy="465.8" rx="10.2" ry="8.9" fill="url(#gRb2)" stroke="#222" stroke-width="0.6"/>
<ellipse cx="143.4" cy="523.6" rx="7.9" ry="7.0" fill="#6f9fd6" stroke="#111" stroke-width="0.8"/>
<circle cx="172.0" cy="523.2" r="5.4" fill="#808080" stroke="#333" stroke-width="0.6"/>
<text x="92.6" y="504.4" font-size="15">80°</text>
<text x="143.6" y="487.6" font-size="13" font-weight="bold" text-anchor="middle">+</text>
</g>
<g id="mol0">
<path d="M135.7,591.5 C135.7,578.3 146.0,572.4 158.5,572.4 C171.0,572.4 181.3,578.3 181.3,591.5 C181.3,600.4 169.9,605.4 158.5,605.4 C147.1,605.4 135.7,600.4 135.7,591.5 Z" fill="url(#gOr)" stroke="#f0853a" stroke-width="0.8"/>
<path d="M135.7,621.3 C135.7,634.3 146.0,640.2 158.5,640.2 C171.0,640.2 181.3,634.3 181.3,621.3 C181.3,612.5 169.9,607.6 158.5,607.6 C147.1,607.6 135.7,612.5 135.7,621.3 Z" fill="url(#gGr)" stroke="#5fb4c8" stroke-width="0.8"/>
<line x1="157.1" y1="607.4" x2="185.1" y2="607.3" stroke="#111" stroke-width="2.2"/>
<ellipse cx="109.4" cy="604.8" rx="10.2" ry="8.9" fill="url(#gRb2)" stroke="#222" stroke-width="0.6"/>
<ellipse cx="157.1" cy="607.5" rx="7.9" ry="7.0" fill="#6f9fd6" stroke="#111" stroke-width="0.8"/>
<circle cx="185.1" cy="607.3" r="5.6" fill="#808080" stroke="#333" stroke-width="0.6"/>
<text x="105" y="636" font-size="15">0°</text>
<text x="130.3" y="611.5" font-size="13" font-weight="bold" text-anchor="middle">+</text>
</g>
<g id="eaxis">
<line x1="82.6" y1="600" x2="82.6" y2="462" stroke="#111" stroke-width="1.4"/>
<path d="M82.6,457.4 L85.3,464.6 L79.9,464.6 Z" fill="#111"/>
<line x1="73.9" y1="515.2" x2="82.6" y2="515.2" stroke="#111" stroke-width="1.4"/>
<line x1="73.9" y1="538.2" x2="82.6" y2="538.2" stroke="#111" stroke-width="1.4"/>
<line x1="73.9" y1="558.4" x2="82.6" y2="558.4" stroke="#111" stroke-width="1.4"/>
<line x1="73.9" y1="576.2" x2="82.6" y2="576.2" stroke="#111" stroke-width="1.4"/>
<line x1="73.9" y1="595.5" x2="82.6" y2="595.5" stroke="#111" stroke-width="1.4"/>
<text x="60" y="520.3" font-size="12.5" font-weight="bold" text-anchor="end">2</text>
<text x="60" y="564.2" font-size="12.5" font-weight="bold" text-anchor="end">0</text>
<text x="62" y="600.5" font-size="12.5" font-weight="bold" text-anchor="end">-2</text>
<text x="36.6" y="448.8" font-size="17">Energy (eV)</text>
</g>
<g id="levels" fill="none">
<line x1="82.6" y1="558.4" x2="180.7" y2="558.4" stroke="#1212a8" stroke-width="2.0"/>
<line x1="180.7" y1="558.4" x2="247.6" y2="583.8" stroke="#1212a8" stroke-width="1.3"/>
<line x1="180.7" y1="558.4" x2="247.6" y2="596.5" stroke="#1212a8" stroke-width="0.7"/>
<line x1="247.6" y1="583.8" x2="336.9" y2="583.8" stroke="#1212a8" stroke-width="2.1"/>
<line x1="247.6" y1="596.5" x2="336.9" y2="596.5" stroke="#1212a8" stroke-width="2.2" stroke-dasharray="2.2 2.3"/>
<line x1="336.9" y1="583.8" x2="394.6" y2="505.8" stroke="#1212a8" stroke-width="1.4"/>
<line x1="336.9" y1="596.5" x2="396.8" y2="562.9" stroke="#1212a8" stroke-width="0.7"/>
<line x1="394.6" y1="505.8" x2="483.9" y2="505.8" stroke="#1212a8" stroke-width="2.1"/>
<line x1="396.8" y1="562.9" x2="486.2" y2="562.9" stroke="#1212a8" stroke-width="2.2" stroke-dasharray="2.2 2.3"/>
<line x1="483.9" y1="505.8" x2="570" y2="589.7" stroke="#222" stroke-width="0.8"/>
<line x1="486.2" y1="562.9" x2="570" y2="589.7" stroke="#222" stroke-width="0.8" stroke-dasharray="1 0.8"/>
<line x1="570" y1="589.7" x2="659.9" y2="589.7" stroke="#111" stroke-width="2.2"/>
</g>
<text x="465.6" y="494.6" font-size="17">R<tspan font-size="11.5" dy="3">c</tspan></text>
<text x="494" y="630.2" font-size="17">R<tspan font-size="11.5" dy="3">c</tspan></text>
<line x1="587.8" y1="622.5" x2="625.8" y2="622.5" stroke="#888" stroke-width="1.0"/>
<line x1="625.8" y1="622.4" x2="653.7" y2="622.1" stroke="#111" stroke-width="2.2"/>
<ellipse cx="587.8" cy="622.5" rx="10.3" ry="9.0" fill="url(#gRb2)" stroke="#222" stroke-width="0.6"/>
<ellipse cx="625.8" cy="622.5" rx="8.0" ry="7.0" fill="#6f9fd6" stroke="#111" stroke-width="0.8"/>
<circle cx="653.7" cy="622.0" r="5.4" fill="#808080" stroke="#333" stroke-width="0.6"/>
<text x="661.6" y="629" font-size="14" font-weight="bold">+ e<tspan font-size="10" dy="-5">-</tspan></text>
</svg>
</body></html>
